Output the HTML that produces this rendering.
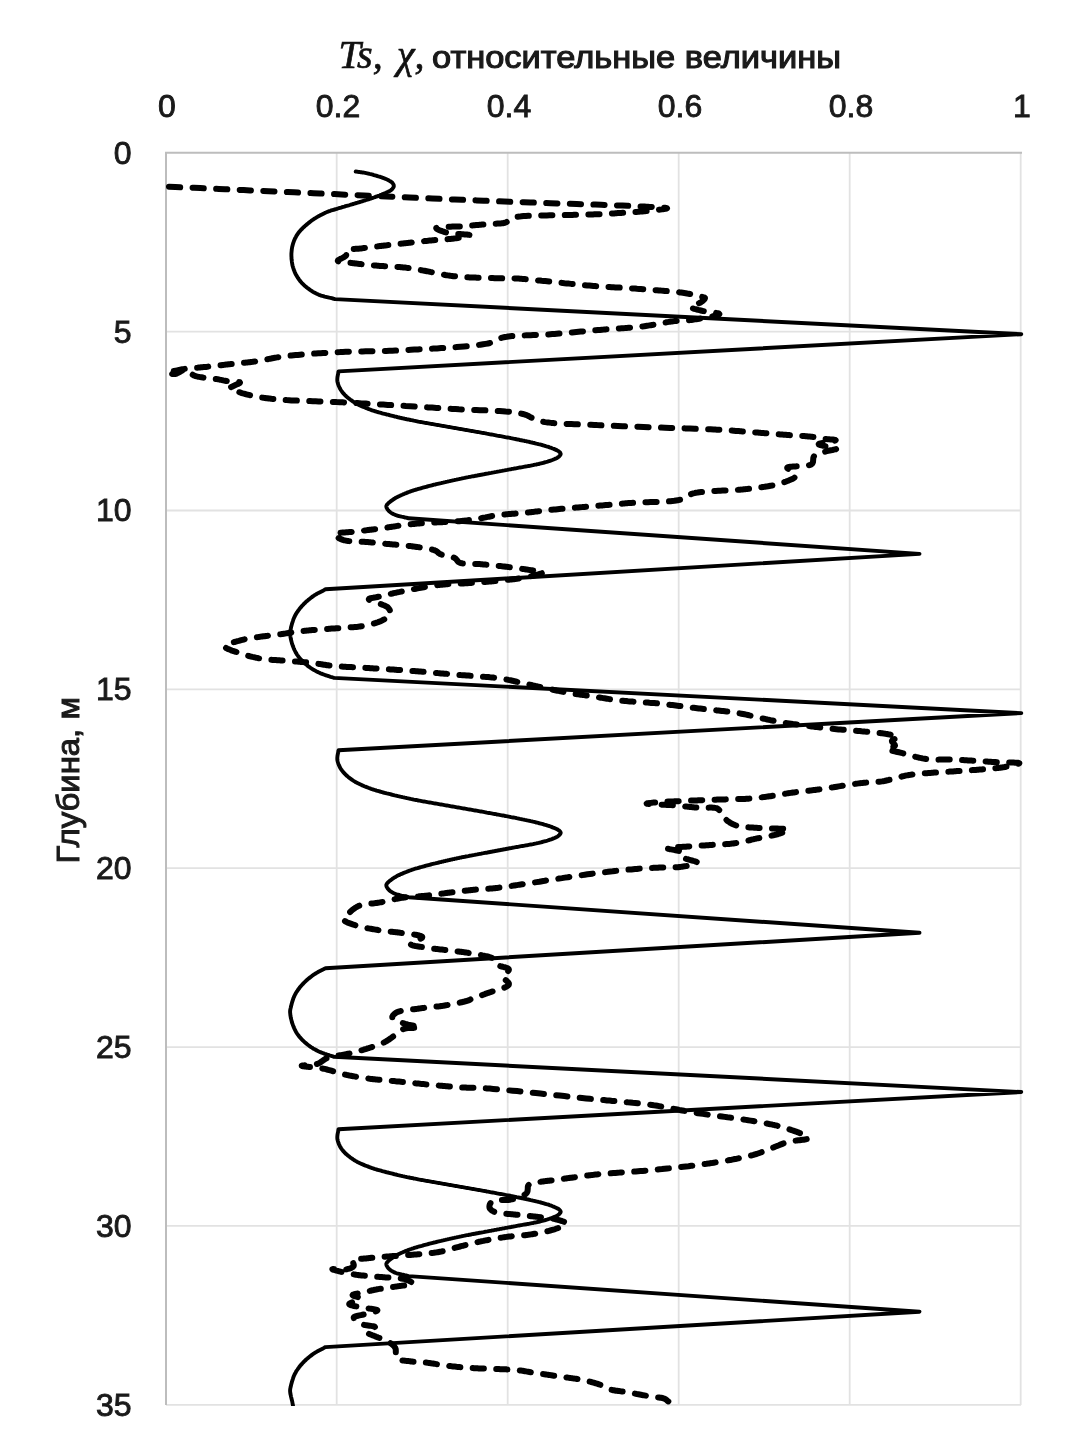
<!DOCTYPE html>
<html><head><meta charset="utf-8"><style>
html,body{margin:0;padding:0;background:#fff;}
svg{display:block;will-change:transform;}
.tk{font-family:"Liberation Sans",sans-serif;font-size:32px;fill:#1a1a1a;font-weight:normal;stroke:#1a1a1a;stroke-width:0.9px;}
.ti{font-family:"Liberation Serif",serif;font-style:italic;font-size:40px;fill:#111;stroke:#111;stroke-width:0.7px;}
.ts{font-family:"Liberation Sans",sans-serif;font-size:31px;fill:#1a1a1a;stroke:#1a1a1a;stroke-width:1.1px;}
.yl{font-family:"Liberation Sans",sans-serif;font-size:31px;fill:#1a1a1a;stroke:#1a1a1a;stroke-width:1px;}
</style></head><body>
<svg width="1067" height="1455" viewBox="0 0 1067 1455">
<rect width="1067" height="1455" fill="#fff"/><clipPath id="cp"><rect x="0" y="0" width="1067" height="1406"/></clipPath>
<line x1="336.7" y1="152.8" x2="336.7" y2="1405" stroke="#e2e2e2" stroke-width="1.8"/><line x1="507.7" y1="152.8" x2="507.7" y2="1405" stroke="#e2e2e2" stroke-width="1.8"/><line x1="678.7" y1="152.8" x2="678.7" y2="1405" stroke="#e2e2e2" stroke-width="1.8"/><line x1="849.7" y1="152.8" x2="849.7" y2="1405" stroke="#e2e2e2" stroke-width="1.8"/><line x1="1020.7" y1="152.8" x2="1020.7" y2="1405" stroke="#e2e2e2" stroke-width="1.8"/><line x1="166" y1="331.7" x2="1021" y2="331.7" stroke="#e2e2e2" stroke-width="1.8"/><line x1="166" y1="510.5" x2="1021" y2="510.5" stroke="#e2e2e2" stroke-width="1.8"/><line x1="166" y1="689.4" x2="1021" y2="689.4" stroke="#e2e2e2" stroke-width="1.8"/><line x1="166" y1="868.2" x2="1021" y2="868.2" stroke="#e2e2e2" stroke-width="1.8"/><line x1="166" y1="1047.1" x2="1021" y2="1047.1" stroke="#e2e2e2" stroke-width="1.8"/><line x1="166" y1="1225.9" x2="1021" y2="1225.9" stroke="#e2e2e2" stroke-width="1.8"/><line x1="166" y1="1404.8" x2="1021" y2="1404.8" stroke="#e2e2e2" stroke-width="1.8"/><line x1="166" y1="152.8" x2="166" y2="1405" stroke="#bdbdbd" stroke-width="2"/><line x1="165" y1="152.8" x2="1022" y2="152.8" stroke="#bdbdbd" stroke-width="2"/>
<text x="167.0" y="116.5" text-anchor="middle" class="tk">0</text><text x="338.0" y="116.5" text-anchor="middle" class="tk">0.2</text><text x="509.0" y="116.5" text-anchor="middle" class="tk">0.4</text><text x="680.0" y="116.5" text-anchor="middle" class="tk">0.6</text><text x="851.0" y="116.5" text-anchor="middle" class="tk">0.8</text><text x="1022.0" y="116.5" text-anchor="middle" class="tk">1</text><text x="131.5" y="163.6" text-anchor="end" class="tk">0</text><text x="131.5" y="342.5" text-anchor="end" class="tk">5</text><text x="131.5" y="521.3" text-anchor="end" class="tk">10</text><text x="131.5" y="700.2" text-anchor="end" class="tk">15</text><text x="131.5" y="879.0" text-anchor="end" class="tk">20</text><text x="131.5" y="1057.9" text-anchor="end" class="tk">25</text><text x="131.5" y="1236.7" text-anchor="end" class="tk">30</text><text x="131.5" y="1415.6" text-anchor="end" class="tk">35</text>
<text x="338.5" y="68" class="ti">Ts,</text><text x="397" y="68" class="ti">χ,</text>
<text x="432" y="68" class="ts" textLength="409" lengthAdjust="spacingAndGlyphs">относительные величины</text>
<text transform="translate(78.5,863.5) rotate(-90)" class="yl" textLength="166.5" lengthAdjust="spacingAndGlyphs">Глубина, м</text>
<path clip-path="url(#cp)" d="M355.7 171.5 L356.9 171.7 L358.0 171.8 L359.2 172.0 L360.4 172.2 L361.6 172.3 L362.7 172.5 L363.9 172.7 L365.1 172.9 L366.2 173.1 L367.3 173.3 L368.4 173.6 L369.5 173.9 L370.6 174.1 L371.7 174.4 L372.8 174.7 L373.9 175.1 L375.0 175.4 L376.1 175.7 L377.2 176.0 L378.3 176.4 L379.5 176.7 L380.6 177.0 L381.7 177.4 L382.8 177.8 L383.9 178.2 L384.9 178.6 L385.9 179.0 L387.0 179.5 L388.1 180.0 L389.1 180.6 L390.2 181.2 L391.1 181.8 L391.9 182.4 L392.5 183.0 L393.2 184.0 L393.7 185.1 L393.8 186.2 L393.6 187.0 L393.1 187.9 L392.5 188.7 L391.8 189.5 L391.1 190.1 L390.2 190.7 L389.2 191.2 L388.1 191.8 L387.0 192.3 L385.9 192.8 L384.9 193.2 L383.9 193.7 L382.8 194.1 L381.7 194.6 L380.6 195.0 L379.5 195.5 L378.3 195.9 L377.2 196.3 L376.1 196.7 L375.0 197.1 L373.9 197.5 L372.9 197.8 L371.8 198.2 L370.7 198.6 L369.6 198.9 L368.5 199.3 L367.4 199.6 L366.2 200.0 L365.2 200.3 L364.1 200.7 L363.1 201.0 L362.0 201.3 L360.9 201.7 L359.8 202.0 L358.7 202.3 L357.5 202.7 L356.4 203.0 L355.3 203.3 L354.2 203.7 L353.1 204.0 L352.0 204.3 L350.9 204.6 L349.8 205.0 L348.8 205.3 L347.7 205.6 L346.6 205.9 L345.5 206.2 L344.4 206.6 L343.3 206.9 L342.2 207.2 L341.1 207.6 L340.0 207.9 L338.9 208.2 L337.9 208.5 L336.8 208.9 L335.7 209.2 L334.6 209.5 L333.5 209.8 L332.4 210.1 L331.3 210.4 L330.3 210.8 L329.2 211.2 L328.1 211.6 L327.0 212.0 L325.9 212.5 L324.9 212.9 L323.9 213.4 L322.9 213.9 L321.9 214.4 L320.9 214.9 L319.9 215.5 L318.9 216.0 L317.9 216.6 L316.9 217.2 L315.9 217.8 L314.9 218.4 L313.9 219.0 L313.0 219.7 L312.0 220.3 L311.1 221.0 L310.2 221.7 L309.3 222.4 L308.4 223.1 L307.5 223.9 L306.6 224.6 L305.6 225.4 L304.8 226.2 L303.9 227.0 L303.0 227.8 L302.2 228.7 L301.3 229.5 L300.5 230.4 L299.8 231.2 L299.0 232.1 L298.4 233.0 L297.7 233.9 L297.1 234.8 L296.5 235.8 L295.9 236.9 L295.3 237.9 L294.8 239.0 L294.3 240.1 L293.9 241.2 L293.5 242.3 L293.1 243.4 L292.8 244.5 L292.5 245.7 L292.2 246.8 L292.0 248.0 L291.8 249.2 L291.7 250.3 L291.6 251.4 L291.5 252.5 L291.4 253.7 L291.4 254.9 L291.4 256.0 L291.5 257.2 L291.5 258.4 L291.6 259.6 L291.8 260.8 L291.9 262.0 L292.1 263.2 L292.3 264.3 L292.5 265.4 L292.8 266.5 L293.1 267.6 L293.5 268.7 L293.8 269.8 L294.3 270.9 L294.7 272.0 L295.2 273.1 L295.7 274.2 L296.3 275.2 L296.8 276.2 L297.5 277.2 L298.1 278.2 L298.8 279.2 L299.5 280.1 L300.2 281.1 L301.0 282.0 L301.7 282.8 L302.5 283.6 L303.3 284.4 L304.1 285.2 L305.0 286.0 L305.9 286.7 L306.8 287.5 L307.7 288.2 L308.7 288.9 L309.7 289.6 L310.6 290.3 L311.6 290.9 L312.6 291.6 L313.7 292.2 L314.7 292.7 L315.7 293.3 L316.7 293.8 L317.8 294.3 L318.9 294.8 L320.0 295.2 L321.1 295.6 L322.2 295.9 L323.4 296.2 L324.6 296.6 L325.7 296.8 L326.9 297.1 L328.1 297.4 L329.3 297.7 L330.4 297.9 L331.6 298.2 L332.8 298.5 L333.9 298.8 L335.1 299.1 L1021.3 334.2 L338.5 371.4 L338.3 372.5 L338.2 373.6 L337.9 374.7 L337.7 375.8 L337.5 376.9 L337.4 378.0 L337.3 379.1 L337.3 380.2 L337.4 381.3 L337.6 382.3 L337.9 383.4 L338.2 384.4 L338.6 385.5 L339.0 386.5 L339.5 387.5 L340.0 388.6 L340.6 389.6 L341.2 390.5 L341.9 391.5 L342.5 392.3 L343.2 393.2 L344.0 394.0 L344.7 394.8 L345.6 395.7 L346.4 396.5 L347.3 397.2 L348.2 398.0 L349.2 398.8 L350.1 399.5 L351.1 400.2 L352.1 400.9 L353.1 401.6 L354.0 402.2 L355.0 402.8 L355.9 403.3 L356.9 403.9 L357.9 404.4 L359.0 404.9 L360.0 405.4 L361.1 405.9 L362.1 406.4 L363.2 406.8 L364.3 407.3 L365.5 407.8 L366.6 408.2 L367.7 408.6 L368.9 409.1 L370.0 409.5 L371.0 409.9 L372.1 410.3 L373.2 410.6 L374.3 411.0 L375.4 411.3 L376.5 411.7 L377.6 412.0 L378.7 412.3 L379.9 412.6 L381.0 412.9 L382.2 413.3 L383.3 413.6 L384.5 413.9 L385.6 414.2 L386.8 414.5 L387.9 414.7 L389.1 415.0 L390.2 415.3 L391.4 415.6 L392.5 415.9 L393.6 416.2 L394.7 416.5 L395.9 416.7 L397.0 417.0 L398.1 417.3 L399.2 417.5 L400.3 417.8 L401.4 418.0 L402.5 418.3 L403.7 418.5 L404.8 418.8 L405.9 419.0 L407.0 419.3 L408.2 419.5 L409.3 419.7 L410.4 420.0 L411.6 420.2 L412.7 420.4 L413.8 420.7 L415.0 420.9 L416.1 421.1 L417.2 421.3 L418.3 421.6 L419.5 421.8 L420.6 422.0 L421.7 422.2 L422.8 422.4 L424.0 422.6 L425.1 422.8 L426.2 423.0 L427.4 423.2 L428.5 423.4 L429.7 423.6 L430.8 423.8 L432.0 424.0 L433.1 424.2 L434.2 424.4 L435.4 424.6 L436.5 424.8 L437.7 425.0 L438.8 425.2 L440.0 425.4 L441.1 425.6 L442.3 425.8 L443.4 426.0 L444.5 426.2 L445.7 426.4 L446.8 426.6 L447.9 426.8 L449.1 427.0 L450.2 427.2 L451.3 427.4 L452.5 427.6 L453.6 427.8 L454.8 428.0 L455.9 428.2 L457.1 428.4 L458.2 428.6 L459.3 428.8 L460.5 429.0 L461.6 429.2 L462.8 429.4 L463.9 429.6 L465.1 429.8 L466.2 430.0 L467.3 430.2 L468.5 430.4 L469.6 430.6 L470.8 430.8 L471.9 431.0 L473.1 431.2 L474.2 431.4 L475.3 431.6 L476.5 431.8 L477.6 432.0 L478.8 432.2 L479.9 432.4 L481.1 432.6 L482.2 432.8 L483.4 433.0 L484.5 433.2 L485.6 433.4 L486.8 433.7 L487.9 433.9 L489.1 434.1 L490.2 434.3 L491.4 434.5 L492.5 434.7 L493.6 434.9 L494.8 435.1 L495.9 435.3 L497.1 435.6 L498.3 435.8 L499.4 436.0 L500.6 436.2 L501.8 436.4 L502.9 436.6 L504.1 436.8 L505.3 437.1 L506.4 437.3 L507.6 437.5 L508.7 437.7 L509.9 437.9 L511.0 438.2 L512.1 438.4 L513.3 438.6 L514.4 438.8 L515.5 439.0 L516.6 439.3 L517.6 439.5 L518.7 439.7 L519.9 440.0 L521.2 440.2 L522.4 440.5 L523.6 440.7 L524.8 441.0 L526.0 441.2 L527.2 441.5 L528.4 441.7 L529.6 442.0 L530.7 442.3 L531.9 442.5 L533.0 442.8 L534.1 443.0 L535.2 443.3 L536.3 443.6 L537.4 443.8 L538.4 444.1 L539.6 444.4 L540.8 444.7 L542.0 445.0 L543.1 445.3 L544.2 445.7 L545.4 446.0 L546.4 446.3 L547.5 446.6 L548.5 446.9 L549.6 447.3 L550.5 447.6 L551.5 448.0 L552.6 448.5 L553.8 448.9 L554.9 449.4 L556.0 449.9 L557.1 450.4 L558.0 450.9 L558.8 451.4 L559.4 451.9 L560.3 452.9 L560.7 453.9 L560.5 454.7 L559.9 455.5 L559.1 456.4 L558.1 457.2 L557.4 457.7 L556.5 458.2 L555.6 458.6 L554.6 459.1 L553.5 459.5 L552.3 460.0 L551.2 460.4 L550.0 460.8 L548.8 461.2 L547.6 461.6 L546.6 461.9 L545.5 462.2 L544.4 462.5 L543.3 462.8 L542.2 463.1 L541.0 463.4 L539.8 463.7 L538.7 464.0 L537.5 464.2 L536.3 464.5 L535.2 464.7 L534.1 464.9 L533.0 465.2 L531.9 465.4 L530.8 465.6 L529.7 465.8 L528.7 466.0 L527.7 466.2 L526.7 466.4 L525.7 466.5 L524.7 466.7 L523.6 466.9 L522.5 467.1 L521.3 467.3 L520.0 467.5 L519.0 467.7 L518.0 467.9 L516.9 468.1 L515.8 468.3 L514.6 468.5 L513.5 468.7 L512.2 468.9 L511.0 469.2 L509.7 469.4 L508.5 469.6 L507.2 469.9 L505.9 470.1 L504.5 470.4 L503.2 470.6 L501.8 470.9 L500.5 471.1 L499.2 471.4 L497.8 471.6 L496.5 471.9 L495.2 472.1 L493.8 472.4 L492.5 472.6 L491.3 472.9 L490.0 473.1 L488.7 473.3 L487.5 473.6 L486.2 473.8 L484.9 474.0 L483.6 474.3 L482.4 474.5 L481.1 474.8 L479.8 475.0 L478.5 475.2 L477.2 475.5 L475.9 475.7 L474.6 476.0 L473.3 476.2 L472.1 476.4 L470.8 476.7 L469.5 476.9 L468.3 477.2 L467.1 477.4 L465.8 477.6 L464.6 477.9 L463.5 478.1 L462.3 478.3 L461.1 478.6 L460.0 478.8 L458.8 479.1 L457.6 479.3 L456.4 479.6 L455.2 479.8 L454.1 480.1 L452.9 480.3 L451.8 480.6 L450.7 480.8 L449.6 481.1 L448.5 481.3 L447.4 481.6 L446.3 481.8 L445.2 482.1 L444.2 482.3 L443.1 482.6 L442.1 482.8 L441.0 483.1 L440.0 483.3 L438.8 483.6 L437.6 483.9 L436.4 484.2 L435.2 484.5 L434.1 484.7 L432.9 485.0 L431.8 485.3 L430.7 485.6 L429.5 485.9 L428.4 486.2 L427.3 486.5 L426.1 486.8 L425.0 487.1 L423.9 487.4 L422.8 487.7 L421.8 488.0 L420.7 488.3 L419.6 488.6 L418.5 488.9 L417.5 489.2 L416.4 489.5 L415.3 489.8 L414.3 490.1 L413.2 490.5 L412.1 490.8 L411.1 491.2 L410.0 491.6 L408.9 492.0 L407.8 492.4 L406.7 492.9 L405.5 493.3 L404.4 493.8 L403.3 494.2 L402.2 494.7 L401.0 495.2 L400.0 495.7 L398.9 496.2 L397.9 496.7 L396.9 497.2 L395.9 497.8 L395.0 498.3 L393.9 499.0 L392.7 499.8 L391.6 500.6 L390.5 501.4 L389.5 502.2 L388.5 503.0 L387.8 503.8 L387.1 504.5 L386.7 505.1 L386.3 506.1 L386.4 507.0 L386.6 507.7 L387.1 508.6 L387.6 509.5 L388.3 510.3 L389.0 511.1 L389.8 511.8 L390.7 512.5 L391.6 513.1 L392.7 513.7 L393.8 514.3 L395.0 514.8 L395.9 515.2 L396.9 515.5 L398.0 515.8 L399.1 516.1 L400.3 516.4 L401.5 516.7 L402.7 516.9 L403.9 517.2 L405.1 517.5 L406.3 517.7 L407.5 518.0 L408.7 518.3 L919.5 553.9 L325.5 589.3 L324.5 589.8 L323.5 590.4 L322.5 590.9 L321.5 591.4 L320.5 591.9 L319.5 592.4 L318.5 592.9 L317.6 593.4 L316.6 594.0 L315.6 594.6 L314.6 595.2 L313.7 595.8 L312.8 596.4 L311.9 597.1 L311.0 597.8 L310.1 598.5 L309.2 599.2 L308.3 599.9 L307.4 600.7 L306.5 601.4 L305.7 602.2 L304.9 603.0 L304.0 603.8 L303.3 604.6 L302.5 605.4 L301.7 606.3 L301.0 607.1 L300.2 608.0 L299.5 608.9 L298.8 609.9 L298.1 610.8 L297.5 611.7 L296.8 612.7 L296.2 613.6 L295.7 614.6 L295.1 615.6 L294.6 616.6 L294.1 617.7 L293.6 618.8 L293.2 620.0 L292.8 621.3 L292.4 622.5 L292.0 623.7 L291.7 624.9 L291.4 626.0 L291.1 627.1 L290.9 628.1 L290.7 629.0 L290.4 630.2 L290.2 631.3 L290.1 632.3 L290.1 633.5 L290.2 634.4 L290.3 635.4 L290.4 636.5 L290.6 637.6 L290.8 638.8 L291.1 640.0 L291.4 641.2 L291.7 642.4 L292.0 643.6 L292.4 644.7 L292.8 645.8 L293.2 646.8 L293.6 647.9 L294.0 648.9 L294.5 650.0 L295.0 651.0 L295.5 652.0 L296.1 653.1 L296.7 654.1 L297.3 655.0 L298.0 656.0 L298.7 656.9 L299.4 657.8 L300.2 658.7 L301.0 659.6 L301.8 660.5 L302.7 661.4 L303.6 662.2 L304.4 663.0 L305.4 663.8 L306.3 664.6 L307.2 665.4 L308.1 666.1 L309.1 666.8 L310.0 667.5 L311.0 668.2 L312.0 668.8 L313.0 669.5 L314.0 670.0 L315.1 670.6 L316.1 671.2 L317.2 671.7 L318.3 672.3 L319.4 672.8 L320.4 673.3 L321.5 673.7 L322.6 674.1 L323.7 674.5 L324.8 674.9 L326.0 675.3 L327.1 675.7 L328.3 676.0 L329.4 676.4 L330.6 676.8 L331.7 677.1 L332.9 677.5 L334.0 677.9 L1021.3 713.1 L338.5 750.3 L338.3 751.4 L338.2 752.5 L337.9 753.6 L337.7 754.7 L337.5 755.8 L337.4 756.9 L337.3 758.0 L337.3 759.1 L337.4 760.2 L337.6 761.2 L337.9 762.3 L338.2 763.3 L338.6 764.4 L339.0 765.4 L339.5 766.4 L340.0 767.5 L340.6 768.5 L341.2 769.4 L341.9 770.4 L342.5 771.2 L343.2 772.1 L344.0 772.9 L344.7 773.7 L345.6 774.6 L346.4 775.4 L347.3 776.1 L348.2 776.9 L349.2 777.7 L350.1 778.4 L351.1 779.1 L352.1 779.8 L353.1 780.5 L354.0 781.1 L355.0 781.7 L355.9 782.2 L356.9 782.8 L357.9 783.3 L359.0 783.8 L360.0 784.3 L361.1 784.8 L362.1 785.3 L363.2 785.7 L364.3 786.2 L365.5 786.7 L366.6 787.1 L367.7 787.5 L368.9 788.0 L370.0 788.4 L371.0 788.8 L372.1 789.2 L373.2 789.5 L374.3 789.9 L375.4 790.2 L376.5 790.6 L377.6 790.9 L378.7 791.2 L379.9 791.5 L381.0 791.8 L382.2 792.2 L383.3 792.5 L384.5 792.8 L385.6 793.1 L386.8 793.4 L387.9 793.6 L389.1 793.9 L390.2 794.2 L391.4 794.5 L392.5 794.8 L393.6 795.1 L394.7 795.4 L395.9 795.6 L397.0 795.9 L398.1 796.2 L399.2 796.4 L400.3 796.7 L401.4 796.9 L402.5 797.2 L403.7 797.4 L404.8 797.7 L405.9 797.9 L407.0 798.2 L408.2 798.4 L409.3 798.6 L410.4 798.9 L411.6 799.1 L412.7 799.3 L413.8 799.6 L415.0 799.8 L416.1 800.0 L417.2 800.2 L418.3 800.5 L419.5 800.7 L420.6 800.9 L421.7 801.1 L422.8 801.3 L424.0 801.5 L425.1 801.7 L426.2 801.9 L427.4 802.1 L428.5 802.3 L429.7 802.5 L430.8 802.7 L432.0 802.9 L433.1 803.1 L434.2 803.3 L435.4 803.5 L436.5 803.7 L437.7 803.9 L438.8 804.1 L440.0 804.3 L441.1 804.5 L442.3 804.7 L443.4 804.9 L444.5 805.1 L445.7 805.3 L446.8 805.5 L447.9 805.7 L449.1 805.9 L450.2 806.1 L451.3 806.3 L452.5 806.5 L453.6 806.7 L454.8 806.9 L455.9 807.1 L457.1 807.3 L458.2 807.5 L459.3 807.7 L460.5 807.9 L461.6 808.1 L462.8 808.3 L463.9 808.5 L465.1 808.7 L466.2 808.9 L467.3 809.1 L468.5 809.3 L469.6 809.5 L470.8 809.7 L471.9 809.9 L473.1 810.1 L474.2 810.3 L475.3 810.5 L476.5 810.7 L477.6 810.9 L478.8 811.1 L479.9 811.3 L481.1 811.5 L482.2 811.7 L483.4 811.9 L484.5 812.1 L485.6 812.3 L486.8 812.6 L487.9 812.8 L489.1 813.0 L490.2 813.2 L491.4 813.4 L492.5 813.6 L493.6 813.8 L494.8 814.0 L495.9 814.2 L497.1 814.5 L498.3 814.7 L499.4 814.9 L500.6 815.1 L501.8 815.3 L502.9 815.5 L504.1 815.7 L505.3 816.0 L506.4 816.2 L507.6 816.4 L508.7 816.6 L509.9 816.8 L511.0 817.1 L512.1 817.3 L513.3 817.5 L514.4 817.7 L515.5 817.9 L516.6 818.2 L517.6 818.4 L518.7 818.6 L519.9 818.9 L521.2 819.1 L522.4 819.4 L523.6 819.6 L524.8 819.9 L526.0 820.1 L527.2 820.4 L528.4 820.6 L529.6 820.9 L530.7 821.2 L531.9 821.4 L533.0 821.7 L534.1 821.9 L535.2 822.2 L536.3 822.5 L537.4 822.7 L538.4 823.0 L539.6 823.3 L540.8 823.6 L542.0 823.9 L543.1 824.2 L544.2 824.6 L545.4 824.9 L546.4 825.2 L547.5 825.5 L548.5 825.8 L549.6 826.2 L550.5 826.5 L551.5 826.9 L552.6 827.4 L553.8 827.8 L554.9 828.3 L556.0 828.8 L557.1 829.3 L558.0 829.8 L558.8 830.3 L559.4 830.8 L560.3 831.8 L560.7 832.8 L560.5 833.6 L559.9 834.4 L559.1 835.3 L558.1 836.1 L557.4 836.6 L556.5 837.1 L555.6 837.5 L554.6 838.0 L553.5 838.4 L552.3 838.9 L551.2 839.3 L550.0 839.7 L548.8 840.1 L547.6 840.5 L546.6 840.8 L545.5 841.1 L544.4 841.4 L543.3 841.7 L542.2 842.0 L541.0 842.3 L539.8 842.6 L538.7 842.9 L537.5 843.1 L536.3 843.4 L535.2 843.6 L534.1 843.8 L533.0 844.1 L531.9 844.3 L530.8 844.5 L529.7 844.7 L528.7 844.9 L527.7 845.1 L526.7 845.3 L525.7 845.4 L524.7 845.6 L523.6 845.8 L522.5 846.0 L521.3 846.2 L520.0 846.4 L519.0 846.6 L518.0 846.8 L516.9 847.0 L515.8 847.2 L514.6 847.4 L513.5 847.6 L512.2 847.8 L511.0 848.1 L509.7 848.3 L508.5 848.5 L507.2 848.8 L505.9 849.0 L504.5 849.3 L503.2 849.5 L501.8 849.8 L500.5 850.0 L499.2 850.3 L497.8 850.5 L496.5 850.8 L495.2 851.0 L493.8 851.3 L492.5 851.5 L491.3 851.8 L490.0 852.0 L488.7 852.2 L487.5 852.5 L486.2 852.7 L484.9 852.9 L483.6 853.2 L482.4 853.4 L481.1 853.7 L479.8 853.9 L478.5 854.1 L477.2 854.4 L475.9 854.6 L474.6 854.9 L473.3 855.1 L472.1 855.3 L470.8 855.6 L469.5 855.8 L468.3 856.1 L467.1 856.3 L465.8 856.5 L464.6 856.8 L463.5 857.0 L462.3 857.2 L461.1 857.5 L460.0 857.7 L458.8 858.0 L457.6 858.2 L456.4 858.5 L455.2 858.7 L454.1 859.0 L452.9 859.2 L451.8 859.5 L450.7 859.7 L449.6 860.0 L448.5 860.2 L447.4 860.5 L446.3 860.7 L445.2 861.0 L444.2 861.2 L443.1 861.5 L442.1 861.7 L441.0 862.0 L440.0 862.2 L438.8 862.5 L437.6 862.8 L436.4 863.1 L435.2 863.4 L434.1 863.6 L432.9 863.9 L431.8 864.2 L430.7 864.5 L429.5 864.8 L428.4 865.1 L427.3 865.4 L426.1 865.7 L425.0 866.0 L423.9 866.3 L422.8 866.6 L421.8 866.9 L420.7 867.2 L419.6 867.5 L418.5 867.8 L417.5 868.1 L416.4 868.4 L415.3 868.7 L414.3 869.0 L413.2 869.4 L412.1 869.7 L411.1 870.1 L410.0 870.5 L408.9 870.9 L407.8 871.3 L406.7 871.8 L405.5 872.2 L404.4 872.7 L403.3 873.1 L402.2 873.6 L401.0 874.1 L400.0 874.6 L398.9 875.1 L397.9 875.6 L396.9 876.1 L395.9 876.7 L395.0 877.2 L393.9 877.9 L392.7 878.7 L391.6 879.5 L390.5 880.3 L389.5 881.1 L388.5 881.9 L387.8 882.7 L387.1 883.4 L386.7 884.0 L386.3 885.0 L386.4 885.9 L386.6 886.6 L387.1 887.5 L387.6 888.4 L388.3 889.2 L389.0 890.0 L389.8 890.7 L390.7 891.4 L391.6 892.0 L392.7 892.6 L393.8 893.2 L395.0 893.7 L395.9 894.1 L396.9 894.4 L398.0 894.7 L399.1 895.0 L400.3 895.3 L401.5 895.6 L402.7 895.8 L403.9 896.1 L405.1 896.4 L406.3 896.6 L407.5 896.9 L408.7 897.2 L919.5 932.8 L325.5 968.2 L324.5 968.7 L323.5 969.3 L322.5 969.8 L321.5 970.3 L320.5 970.8 L319.5 971.3 L318.5 971.8 L317.6 972.3 L316.6 972.9 L315.6 973.5 L314.6 974.1 L313.7 974.7 L312.8 975.3 L311.9 976.0 L311.0 976.7 L310.1 977.4 L309.2 978.1 L308.3 978.8 L307.4 979.6 L306.5 980.3 L305.7 981.1 L304.9 981.9 L304.0 982.7 L303.3 983.5 L302.5 984.3 L301.7 985.2 L301.0 986.0 L300.2 986.9 L299.5 987.8 L298.8 988.8 L298.1 989.7 L297.5 990.6 L296.8 991.6 L296.2 992.5 L295.7 993.5 L295.1 994.5 L294.6 995.5 L294.1 996.6 L293.6 997.7 L293.2 998.9 L292.8 1000.2 L292.4 1001.4 L292.0 1002.6 L291.7 1003.8 L291.4 1004.9 L291.1 1006.0 L290.9 1007.0 L290.7 1007.9 L290.4 1009.1 L290.2 1010.2 L290.1 1011.2 L290.1 1012.4 L290.2 1013.3 L290.3 1014.3 L290.4 1015.4 L290.6 1016.5 L290.8 1017.7 L291.1 1018.9 L291.4 1020.1 L291.7 1021.3 L292.0 1022.5 L292.4 1023.6 L292.8 1024.7 L293.2 1025.7 L293.6 1026.8 L294.0 1027.8 L294.5 1028.9 L295.0 1029.9 L295.5 1030.9 L296.1 1032.0 L296.7 1033.0 L297.3 1033.9 L298.0 1034.9 L298.7 1035.8 L299.4 1036.7 L300.2 1037.6 L301.0 1038.5 L301.8 1039.4 L302.7 1040.3 L303.6 1041.1 L304.4 1041.9 L305.4 1042.7 L306.3 1043.5 L307.2 1044.3 L308.1 1045.0 L309.1 1045.7 L310.0 1046.4 L311.0 1047.1 L312.0 1047.7 L313.0 1048.4 L314.0 1048.9 L315.1 1049.5 L316.1 1050.1 L317.2 1050.6 L318.3 1051.2 L319.4 1051.7 L320.4 1052.2 L321.5 1052.6 L322.6 1053.0 L323.7 1053.4 L324.8 1053.8 L326.0 1054.2 L327.1 1054.6 L328.3 1054.9 L329.4 1055.3 L330.6 1055.7 L331.7 1056.0 L332.9 1056.4 L334.0 1056.8 L1021.3 1092.0 L338.5 1129.2 L338.3 1130.3 L338.2 1131.4 L337.9 1132.5 L337.7 1133.6 L337.5 1134.7 L337.4 1135.8 L337.3 1136.9 L337.3 1138.0 L337.4 1139.1 L337.6 1140.1 L337.9 1141.2 L338.2 1142.2 L338.6 1143.3 L339.0 1144.3 L339.5 1145.3 L340.0 1146.4 L340.6 1147.4 L341.2 1148.3 L341.9 1149.3 L342.5 1150.1 L343.2 1151.0 L344.0 1151.8 L344.7 1152.6 L345.6 1153.5 L346.4 1154.3 L347.3 1155.0 L348.2 1155.8 L349.2 1156.6 L350.1 1157.3 L351.1 1158.0 L352.1 1158.7 L353.1 1159.4 L354.0 1160.0 L355.0 1160.6 L355.9 1161.1 L356.9 1161.7 L357.9 1162.2 L359.0 1162.7 L360.0 1163.2 L361.1 1163.7 L362.1 1164.2 L363.2 1164.6 L364.3 1165.1 L365.5 1165.6 L366.6 1166.0 L367.7 1166.4 L368.9 1166.9 L370.0 1167.3 L371.0 1167.7 L372.1 1168.1 L373.2 1168.4 L374.3 1168.8 L375.4 1169.1 L376.5 1169.5 L377.6 1169.8 L378.7 1170.1 L379.9 1170.4 L381.0 1170.7 L382.2 1171.1 L383.3 1171.4 L384.5 1171.7 L385.6 1172.0 L386.8 1172.3 L387.9 1172.5 L389.1 1172.8 L390.2 1173.1 L391.4 1173.4 L392.5 1173.7 L393.6 1174.0 L394.7 1174.3 L395.9 1174.5 L397.0 1174.8 L398.1 1175.1 L399.2 1175.3 L400.3 1175.6 L401.4 1175.8 L402.5 1176.1 L403.7 1176.3 L404.8 1176.6 L405.9 1176.8 L407.0 1177.1 L408.2 1177.3 L409.3 1177.5 L410.4 1177.8 L411.6 1178.0 L412.7 1178.2 L413.8 1178.5 L415.0 1178.7 L416.1 1178.9 L417.2 1179.1 L418.3 1179.4 L419.5 1179.6 L420.6 1179.8 L421.7 1180.0 L422.8 1180.2 L424.0 1180.4 L425.1 1180.6 L426.2 1180.8 L427.4 1181.0 L428.5 1181.2 L429.7 1181.4 L430.8 1181.6 L432.0 1181.8 L433.1 1182.0 L434.2 1182.2 L435.4 1182.4 L436.5 1182.6 L437.7 1182.8 L438.8 1183.0 L440.0 1183.2 L441.1 1183.4 L442.3 1183.6 L443.4 1183.8 L444.5 1184.0 L445.7 1184.2 L446.8 1184.4 L447.9 1184.6 L449.1 1184.8 L450.2 1185.0 L451.3 1185.2 L452.5 1185.4 L453.6 1185.6 L454.8 1185.8 L455.9 1186.0 L457.1 1186.2 L458.2 1186.4 L459.3 1186.6 L460.5 1186.8 L461.6 1187.0 L462.8 1187.2 L463.9 1187.4 L465.1 1187.6 L466.2 1187.8 L467.3 1188.0 L468.5 1188.2 L469.6 1188.4 L470.8 1188.6 L471.9 1188.8 L473.1 1189.0 L474.2 1189.2 L475.3 1189.4 L476.5 1189.6 L477.6 1189.8 L478.8 1190.0 L479.9 1190.2 L481.1 1190.4 L482.2 1190.6 L483.4 1190.8 L484.5 1191.0 L485.6 1191.2 L486.8 1191.5 L487.9 1191.7 L489.1 1191.9 L490.2 1192.1 L491.4 1192.3 L492.5 1192.5 L493.6 1192.7 L494.8 1192.9 L495.9 1193.1 L497.1 1193.4 L498.3 1193.6 L499.4 1193.8 L500.6 1194.0 L501.8 1194.2 L502.9 1194.4 L504.1 1194.6 L505.3 1194.9 L506.4 1195.1 L507.6 1195.3 L508.7 1195.5 L509.9 1195.7 L511.0 1196.0 L512.1 1196.2 L513.3 1196.4 L514.4 1196.6 L515.5 1196.8 L516.6 1197.1 L517.6 1197.3 L518.7 1197.5 L519.9 1197.8 L521.2 1198.0 L522.4 1198.3 L523.6 1198.5 L524.8 1198.8 L526.0 1199.0 L527.2 1199.3 L528.4 1199.5 L529.6 1199.8 L530.7 1200.1 L531.9 1200.3 L533.0 1200.6 L534.1 1200.8 L535.2 1201.1 L536.3 1201.4 L537.4 1201.6 L538.4 1201.9 L539.6 1202.2 L540.8 1202.5 L542.0 1202.8 L543.1 1203.1 L544.2 1203.5 L545.4 1203.8 L546.4 1204.1 L547.5 1204.4 L548.5 1204.7 L549.6 1205.1 L550.5 1205.4 L551.5 1205.8 L552.6 1206.3 L553.8 1206.7 L554.9 1207.2 L556.0 1207.7 L557.1 1208.2 L558.0 1208.7 L558.8 1209.2 L559.4 1209.7 L560.3 1210.7 L560.7 1211.7 L560.5 1212.5 L559.9 1213.3 L559.1 1214.2 L558.1 1215.0 L557.4 1215.5 L556.5 1216.0 L555.6 1216.4 L554.6 1216.9 L553.5 1217.3 L552.3 1217.8 L551.2 1218.2 L550.0 1218.6 L548.8 1219.0 L547.6 1219.4 L546.6 1219.7 L545.5 1220.0 L544.4 1220.3 L543.3 1220.6 L542.2 1220.9 L541.0 1221.2 L539.8 1221.5 L538.7 1221.8 L537.5 1222.0 L536.3 1222.3 L535.2 1222.5 L534.1 1222.7 L533.0 1223.0 L531.9 1223.2 L530.8 1223.4 L529.7 1223.6 L528.7 1223.8 L527.7 1224.0 L526.7 1224.2 L525.7 1224.3 L524.7 1224.5 L523.6 1224.7 L522.5 1224.9 L521.3 1225.1 L520.0 1225.3 L519.0 1225.5 L518.0 1225.7 L516.9 1225.9 L515.8 1226.1 L514.6 1226.3 L513.5 1226.5 L512.2 1226.7 L511.0 1227.0 L509.7 1227.2 L508.5 1227.4 L507.2 1227.7 L505.9 1227.9 L504.5 1228.2 L503.2 1228.4 L501.8 1228.7 L500.5 1228.9 L499.2 1229.2 L497.8 1229.4 L496.5 1229.7 L495.2 1229.9 L493.8 1230.2 L492.5 1230.4 L491.3 1230.7 L490.0 1230.9 L488.7 1231.1 L487.5 1231.4 L486.2 1231.6 L484.9 1231.8 L483.6 1232.1 L482.4 1232.3 L481.1 1232.6 L479.8 1232.8 L478.5 1233.0 L477.2 1233.3 L475.9 1233.5 L474.6 1233.8 L473.3 1234.0 L472.1 1234.2 L470.8 1234.5 L469.5 1234.7 L468.3 1235.0 L467.1 1235.2 L465.8 1235.4 L464.6 1235.7 L463.5 1235.9 L462.3 1236.1 L461.1 1236.4 L460.0 1236.6 L458.8 1236.9 L457.6 1237.1 L456.4 1237.4 L455.2 1237.6 L454.1 1237.9 L452.9 1238.1 L451.8 1238.4 L450.7 1238.6 L449.6 1238.9 L448.5 1239.1 L447.4 1239.4 L446.3 1239.6 L445.2 1239.9 L444.2 1240.1 L443.1 1240.4 L442.1 1240.6 L441.0 1240.9 L440.0 1241.1 L438.8 1241.4 L437.6 1241.7 L436.4 1242.0 L435.2 1242.3 L434.1 1242.5 L432.9 1242.8 L431.8 1243.1 L430.7 1243.4 L429.5 1243.7 L428.4 1244.0 L427.3 1244.3 L426.1 1244.6 L425.0 1244.9 L423.9 1245.2 L422.8 1245.5 L421.8 1245.8 L420.7 1246.1 L419.6 1246.4 L418.5 1246.7 L417.5 1247.0 L416.4 1247.3 L415.3 1247.6 L414.3 1247.9 L413.2 1248.3 L412.1 1248.6 L411.1 1249.0 L410.0 1249.4 L408.9 1249.8 L407.8 1250.2 L406.7 1250.7 L405.5 1251.1 L404.4 1251.6 L403.3 1252.0 L402.2 1252.5 L401.0 1253.0 L400.0 1253.5 L398.9 1254.0 L397.9 1254.5 L396.9 1255.0 L395.9 1255.6 L395.0 1256.1 L393.9 1256.8 L392.7 1257.6 L391.6 1258.4 L390.5 1259.2 L389.5 1260.0 L388.5 1260.8 L387.8 1261.6 L387.1 1262.3 L386.7 1262.9 L386.3 1263.9 L386.4 1264.8 L386.6 1265.5 L387.1 1266.4 L387.6 1267.3 L388.3 1268.1 L389.0 1268.9 L389.8 1269.6 L390.7 1270.3 L391.6 1270.9 L392.7 1271.5 L393.8 1272.1 L395.0 1272.6 L395.9 1273.0 L396.9 1273.3 L398.0 1273.6 L399.1 1273.9 L400.3 1274.2 L401.5 1274.5 L402.7 1274.7 L403.9 1275.0 L405.1 1275.3 L406.3 1275.5 L407.5 1275.8 L408.7 1276.1 L919.5 1311.7 L325.5 1347.1 L324.5 1347.6 L323.5 1348.2 L322.5 1348.7 L321.5 1349.2 L320.5 1349.7 L319.5 1350.2 L318.5 1350.7 L317.6 1351.2 L316.6 1351.8 L315.6 1352.4 L314.6 1353.0 L313.7 1353.6 L312.8 1354.2 L311.9 1354.9 L311.0 1355.6 L310.1 1356.3 L309.2 1357.0 L308.3 1357.7 L307.4 1358.5 L306.5 1359.2 L305.7 1360.0 L304.9 1360.8 L304.0 1361.6 L303.3 1362.4 L302.5 1363.2 L301.7 1364.1 L301.0 1364.9 L300.2 1365.8 L299.5 1366.7 L298.8 1367.7 L298.1 1368.6 L297.5 1369.5 L296.8 1370.5 L296.2 1371.4 L295.7 1372.4 L295.1 1373.4 L294.6 1374.4 L294.1 1375.5 L293.6 1376.6 L293.2 1377.8 L292.8 1379.1 L292.4 1380.3 L292.0 1381.5 L291.7 1382.7 L291.4 1383.8 L291.1 1384.9 L290.9 1385.9 L290.7 1386.8 L290.4 1388.0 L290.2 1389.1 L290.1 1390.1 L290.1 1391.3 L290.2 1392.2 L290.3 1393.2 L290.5 1394.3 L290.8 1395.5 L291.0 1396.6 L291.3 1397.8 L291.6 1399.0 L291.9 1400.2 L292.2 1401.4 L292.4 1402.5 L292.6 1403.6 L292.8 1404.7 L293.0 1405.7 L293.1 1406.8 L293.3 1407.8 L293.5 1408.9 L293.7 1409.9 L293.8 1410.9 L294.0 1412.0" fill="none" stroke="#000" stroke-width="3.9" stroke-linejoin="round" stroke-linecap="round"/>
<path d="M169.0 186.7 L175.3 187.0 L181.5 187.3 L187.8 187.5 L194.0 187.8 L200.2 188.1 L206.5 188.4 L212.7 188.7 L218.9 189.0 L225.1 189.2 L231.3 189.5 L237.5 189.8 L243.7 190.1 L250.0 190.4 L256.2 190.6 L262.5 190.9 L268.7 191.2 L275.0 191.5 L281.4 191.8 L287.7 192.1 L294.1 192.3 L300.5 192.6 L307.0 192.9 L313.5 193.2 L320.0 193.5 L327.2 193.8 L334.4 194.1 L341.7 194.5 L349.1 194.8 L356.5 195.1 L363.9 195.5 L371.5 195.8 L379.0 196.1 L386.6 196.5 L394.2 196.8 L401.8 197.2 L409.4 197.5 L416.9 197.8 L424.5 198.2 L432.1 198.5 L439.6 198.8 L447.1 199.2 L454.6 199.5 L462.0 199.8 L469.3 200.1 L476.6 200.4 L483.8 200.7 L491.0 201.0 L498.0 201.3 L504.3 201.5 L510.7 201.8 L517.2 202.0 L523.8 202.3 L530.4 202.5 L537.1 202.7 L543.8 202.9 L550.5 203.2 L557.1 203.4 L563.7 203.6 L570.3 203.8 L576.7 204.0 L583.0 204.2 L589.2 204.4 L595.3 204.6 L601.2 204.8 L606.9 205.0 L612.3 205.2 L617.6 205.4 L622.6 205.6 L627.3 205.8 L631.7 206.0 L635.8 206.2 L639.6 206.4 L641.3 206.5 L642.9 206.6 L644.6 206.6 L646.3 206.7 L648.0 206.8 L649.6 206.9 L651.3 206.9 L652.9 207.0 L654.4 207.1 L655.9 207.2 L657.4 207.2 L658.7 207.3 L660.0 207.4 L661.2 207.5 L662.4 207.5 L663.4 207.6 L664.3 207.7 L665.1 207.8 L665.7 207.9 L666.3 208.0 L666.7 208.1 L666.9 208.2 L667.0 208.3 L666.9 208.4 L666.5 208.6 L665.9 208.7 L665.1 208.9 L664.1 209.1 L663.0 209.2 L661.8 209.4 L660.4 209.6 L659.0 209.7 L657.5 209.9 L655.9 210.1 L654.4 210.3 L652.8 210.4 L651.3 210.6 L649.9 210.7 L648.5 210.9 L647.2 211.0 L646.1 211.1 L644.9 211.2 L643.8 211.3 L642.6 211.4 L641.4 211.5 L640.2 211.6 L639.0 211.7 L637.8 211.8 L636.6 211.9 L635.4 211.9 L634.2 212.0 L633.0 212.1 L631.8 212.2 L630.6 212.3 L629.4 212.3 L628.2 212.4 L627.1 212.5 L625.9 212.5 L624.7 212.6 L623.6 212.7 L622.4 212.8 L621.2 212.9 L620.0 213.0 L618.9 213.0 L617.7 213.1 L616.6 213.2 L615.4 213.3 L614.3 213.4 L613.2 213.4 L612.0 213.5 L610.9 213.6 L609.7 213.7 L608.5 213.7 L607.3 213.8 L606.0 213.9 L604.7 213.9 L603.4 214.0 L602.2 214.1 L600.9 214.1 L599.6 214.2 L598.3 214.2 L597.0 214.2 L595.7 214.3 L594.4 214.3 L593.0 214.4 L591.6 214.4 L590.3 214.4 L588.9 214.5 L587.4 214.5 L586.0 214.5 L584.6 214.5 L583.1 214.6 L581.6 214.6 L580.1 214.7 L578.6 214.7 L577.1 214.7 L575.6 214.8 L574.0 214.8 L572.5 214.9 L570.9 214.9 L569.3 215.0 L567.2 215.1 L564.9 215.1 L562.6 215.2 L560.1 215.2 L557.6 215.2 L554.9 215.3 L552.3 215.3 L549.6 215.3 L546.8 215.4 L544.1 215.4 L541.4 215.4 L538.7 215.5 L536.0 215.5 L533.4 215.6 L530.8 215.7 L528.3 215.8 L525.9 216.0 L523.6 216.1 L521.5 216.3 L519.4 216.6 L517.6 216.8 L515.9 217.1 L514.3 217.4 L513.0 217.8 L511.7 218.3 L510.7 218.9 L509.8 219.5 L509.0 220.2 L508.3 220.9 L507.5 221.5 L506.7 222.0 L505.6 222.5 L504.7 222.8 L503.8 223.0 L502.8 223.2 L501.7 223.3 L500.7 223.4 L499.6 223.5 L498.4 223.6 L497.3 223.6 L496.1 223.7 L494.9 223.7 L493.7 223.7 L492.4 223.8 L491.2 223.8 L489.9 223.9 L488.7 224.0 L487.6 224.1 L486.5 224.2 L485.4 224.3 L484.3 224.4 L483.1 224.5 L482.0 224.6 L480.8 224.7 L479.6 224.8 L478.4 224.9 L477.2 225.0 L476.0 225.1 L474.7 225.2 L473.5 225.3 L472.3 225.4 L471.0 225.5 L469.8 225.6 L468.6 225.7 L467.3 225.8 L466.1 225.9 L464.9 226.0 L463.7 226.1 L462.5 226.2 L461.3 226.3 L459.9 226.4 L458.5 226.4 L457.0 226.5 L455.5 226.5 L454.0 226.6 L452.4 226.6 L450.8 226.7 L449.2 226.7 L447.7 226.7 L446.2 226.8 L444.7 226.9 L443.3 226.9 L442.0 227.0 L440.8 227.1 L439.7 227.2 L438.7 227.3 L437.9 227.4 L437.2 227.5 L436.7 227.7 L436.3 227.9 L436.2 228.1 L436.3 228.4 L436.8 228.8 L437.5 229.3 L438.4 229.7 L439.5 230.2 L440.7 230.7 L442.1 231.2 L443.5 231.6 L444.9 232.1 L446.2 232.5 L447.5 232.8 L448.5 233.0 L449.7 233.2 L451.1 233.4 L452.5 233.6 L454.0 233.7 L455.5 233.8 L457.1 234.0 L458.7 234.1 L460.3 234.1 L461.8 234.2 L463.3 234.3 L464.6 234.4 L465.9 234.5 L467.1 234.6 L468.0 234.7 L468.9 234.8 L469.5 234.9 L469.9 235.0 L470.0 235.2 L469.8 235.4 L469.4 235.6 L468.7 235.9 L467.7 236.2 L466.6 236.4 L465.3 236.7 L463.9 237.0 L462.4 237.2 L460.8 237.5 L459.3 237.7 L457.8 238.0 L456.3 238.2 L455.0 238.4 L453.9 238.6 L452.8 238.7 L451.7 238.8 L450.6 238.9 L449.4 239.0 L448.2 239.1 L447.1 239.2 L445.9 239.3 L444.6 239.4 L443.4 239.5 L442.2 239.6 L441.0 239.7 L439.8 239.7 L438.5 239.8 L437.3 239.9 L436.1 240.0 L434.9 240.1 L433.7 240.2 L432.5 240.3 L431.3 240.4 L430.1 240.5 L429.0 240.6 L427.8 240.8 L426.6 240.9 L425.4 241.0 L424.2 241.1 L423.1 241.3 L421.9 241.4 L420.7 241.5 L419.5 241.7 L418.4 241.8 L417.2 241.9 L416.0 242.0 L414.8 242.2 L413.6 242.3 L412.4 242.4 L411.2 242.6 L410.0 242.7 L408.9 242.8 L407.7 242.9 L406.6 243.1 L405.4 243.2 L404.3 243.3 L403.1 243.4 L401.9 243.6 L400.8 243.7 L399.6 243.8 L398.4 244.0 L397.3 244.1 L396.1 244.2 L394.9 244.3 L393.8 244.5 L392.6 244.6 L391.4 244.7 L390.3 244.9 L389.1 245.0 L387.9 245.1 L386.8 245.3 L385.6 245.4 L384.4 245.5 L383.3 245.7 L382.1 245.8 L380.9 246.0 L379.7 246.1 L378.5 246.2 L377.2 246.4 L376.0 246.5 L374.8 246.7 L373.6 246.8 L372.4 247.0 L371.2 247.1 L370.1 247.3 L368.9 247.4 L367.7 247.6 L366.6 247.7 L365.5 247.8 L364.4 248.0 L363.3 248.1 L362.2 248.3 L361.2 248.4 L359.9 248.6 L358.5 248.7 L357.1 248.8 L355.7 248.8 L354.3 248.9 L352.9 249.0 L351.6 249.1 L350.4 249.2 L349.3 249.3 L348.3 249.5 L347.4 249.8 L346.7 250.2 L346.2 250.6 L345.9 251.6 L346.1 252.8 L346.4 254.1 L346.2 255.3 L345.6 256.0 L344.7 256.7 L343.5 257.4 L342.1 258.1 L340.8 258.7 L339.6 259.4 L338.6 259.9 L338.0 260.4 L337.8 260.9 L338.0 261.2 L338.6 261.5 L339.4 261.7 L340.4 261.9 L341.6 262.1 L342.9 262.2 L344.3 262.3 L345.7 262.4 L347.2 262.5 L348.6 262.6 L350.0 262.8 L351.0 262.9 L352.0 263.1 L353.1 263.2 L354.1 263.3 L355.3 263.5 L356.4 263.6 L357.6 263.7 L358.8 263.9 L360.0 264.0 L361.2 264.1 L362.4 264.3 L363.7 264.4 L364.9 264.5 L366.2 264.7 L367.4 264.8 L368.7 264.9 L370.0 265.0 L371.2 265.1 L372.5 265.3 L373.7 265.4 L375.0 265.5 L376.2 265.6 L377.4 265.7 L378.5 265.8 L379.7 265.9 L380.9 265.9 L382.0 266.0 L383.2 266.1 L384.4 266.2 L385.6 266.2 L386.8 266.3 L388.0 266.3 L389.2 266.4 L390.4 266.5 L391.6 266.5 L392.8 266.6 L394.0 266.7 L395.1 266.7 L396.3 266.8 L397.5 266.9 L398.6 267.0 L399.8 267.1 L400.9 267.2 L402.1 267.3 L403.2 267.4 L404.3 267.5 L405.5 267.6 L406.7 267.8 L407.8 267.9 L409.0 268.1 L410.1 268.3 L411.2 268.4 L412.3 268.6 L413.4 268.8 L414.6 269.0 L415.7 269.2 L416.8 269.4 L417.9 269.6 L419.0 269.8 L420.1 270.0 L421.2 270.2 L422.3 270.4 L423.4 270.6 L424.5 270.8 L425.7 271.0 L426.8 271.2 L427.9 271.4 L429.1 271.6 L430.2 271.9 L431.4 272.1 L432.5 272.3 L433.6 272.6 L434.8 272.8 L435.9 273.1 L437.1 273.3 L438.2 273.5 L439.4 273.8 L440.6 274.0 L441.7 274.3 L442.9 274.5 L444.1 274.7 L445.2 275.0 L446.4 275.2 L447.6 275.4 L448.8 275.6 L450.0 275.7 L451.2 275.9 L452.3 276.0 L453.4 276.2 L454.6 276.3 L455.7 276.4 L456.8 276.5 L457.9 276.6 L459.1 276.7 L460.2 276.8 L461.3 276.9 L462.5 277.0 L463.6 277.0 L464.8 277.1 L465.9 277.2 L467.1 277.2 L468.3 277.3 L469.5 277.4 L470.7 277.4 L471.9 277.5 L473.1 277.5 L474.3 277.6 L475.5 277.6 L476.8 277.7 L478.0 277.7 L479.3 277.8 L480.9 277.9 L482.5 277.9 L484.1 278.0 L485.8 278.0 L487.5 278.0 L489.3 278.1 L491.1 278.1 L492.8 278.1 L494.6 278.2 L496.5 278.2 L498.3 278.2 L500.1 278.2 L501.9 278.2 L503.7 278.3 L505.5 278.3 L507.2 278.3 L509.0 278.3 L510.7 278.4 L512.3 278.4 L514.0 278.4 L515.5 278.5 L517.1 278.6 L518.6 278.6 L520.0 278.7 L521.3 278.8 L522.6 278.9 L523.8 279.0 L525.0 279.1 L526.1 279.2 L527.2 279.3 L528.3 279.4 L529.3 279.5 L530.4 279.6 L531.5 279.7 L532.5 279.8 L533.7 279.9 L534.8 280.1 L536.0 280.2 L537.3 280.3 L538.6 280.5 L540.0 280.6 L541.7 280.8 L543.5 280.9 L545.3 281.1 L547.2 281.3 L549.2 281.5 L551.2 281.8 L553.3 282.0 L555.5 282.2 L557.7 282.4 L559.9 282.7 L562.1 282.9 L564.4 283.2 L566.7 283.4 L569.0 283.6 L571.3 283.9 L573.6 284.1 L575.9 284.4 L578.2 284.6 L580.5 284.8 L582.8 285.0 L585.0 285.2 L587.2 285.4 L589.4 285.6 L591.5 285.8 L593.5 286.0 L595.5 286.1 L597.5 286.3 L599.5 286.4 L601.5 286.5 L603.5 286.7 L605.5 286.8 L607.5 286.9 L609.5 287.0 L611.5 287.2 L613.5 287.3 L615.4 287.4 L617.4 287.5 L619.4 287.6 L621.4 287.7 L623.3 287.9 L625.3 288.0 L627.3 288.1 L629.2 288.2 L631.2 288.3 L633.1 288.5 L635.1 288.6 L637.0 288.8 L639.0 288.9 L640.9 289.0 L642.9 289.2 L644.9 289.3 L646.8 289.5 L648.9 289.6 L650.9 289.8 L652.9 289.9 L654.9 290.1 L657.0 290.2 L659.0 290.4 L661.0 290.6 L663.0 290.7 L665.0 290.9 L666.9 291.0 L668.8 291.2 L670.7 291.4 L672.6 291.6 L674.4 291.8 L676.2 292.0 L677.9 292.1 L679.6 292.4 L681.2 292.6 L682.8 292.8 L684.3 293.0 L685.7 293.2 L687.2 293.5 L688.6 293.7 L690.0 294.0 L691.4 294.3 L692.7 294.6 L694.0 294.8 L695.3 295.1 L696.5 295.4 L697.7 295.7 L698.7 295.9 L699.8 296.2 L700.7 296.5 L701.5 296.7 L702.3 296.9 L702.9 297.1 L704.3 297.5 L705.0 298.0 L704.9 298.5 L704.4 299.2 L703.7 300.0 L702.8 300.8 L701.8 301.6 L700.8 302.3 L699.9 302.8 L698.7 303.3 L697.4 303.8 L696.0 304.3 L694.7 304.8 L693.4 305.3 L692.2 305.7 L691.3 306.2 L690.7 306.6 L690.5 307.0 L690.7 307.4 L691.2 307.8 L692.0 308.2 L693.0 308.5 L694.2 308.9 L695.5 309.2 L696.8 309.5 L698.2 309.9 L699.5 310.2 L700.8 310.5 L701.9 310.8 L703.1 311.0 L704.5 311.2 L705.9 311.4 L707.4 311.6 L709.0 311.9 L710.5 312.1 L712.1 312.3 L713.5 312.5 L714.9 312.7 L716.1 312.9 L717.2 313.1 L718.1 313.3 L718.8 313.5 L719.2 313.8 L719.4 314.0 L719.3 314.2 L719.0 314.5 L718.5 314.7 L717.9 315.0 L717.1 315.2 L716.2 315.5 L715.1 315.8 L713.9 316.1 L712.7 316.3 L711.3 316.6 L709.9 316.9 L708.4 317.2 L706.9 317.5 L705.4 317.8 L703.8 318.0 L702.2 318.3 L700.7 318.5 L699.2 318.8 L697.7 319.0 L696.3 319.2 L695.0 319.4 L693.7 319.6 L692.6 319.8 L691.4 320.0 L690.2 320.1 L689.1 320.2 L687.9 320.3 L686.8 320.4 L685.7 320.5 L684.6 320.5 L683.5 320.6 L682.4 320.7 L681.2 320.7 L680.1 320.8 L679.0 320.8 L677.9 320.9 L676.8 320.9 L675.6 321.0 L674.4 321.1 L673.2 321.3 L672.0 321.4 L670.9 321.5 L669.8 321.7 L668.7 321.9 L667.5 322.1 L666.4 322.3 L665.2 322.5 L664.1 322.7 L662.9 322.9 L661.7 323.1 L660.6 323.3 L659.4 323.6 L658.2 323.8 L657.0 324.1 L655.8 324.3 L654.5 324.5 L653.3 324.8 L652.1 325.0 L650.8 325.2 L649.5 325.4 L648.3 325.6 L647.0 325.8 L645.7 326.0 L644.4 326.2 L643.1 326.4 L641.5 326.6 L639.9 326.8 L638.3 326.9 L636.7 327.1 L635.1 327.3 L633.4 327.4 L631.8 327.6 L630.1 327.7 L628.4 327.8 L626.7 327.9 L625.0 328.1 L623.3 328.2 L621.5 328.3 L619.8 328.4 L618.0 328.5 L616.3 328.7 L614.5 328.8 L612.7 328.9 L610.9 329.0 L609.1 329.1 L607.3 329.3 L605.5 329.4 L603.7 329.6 L601.9 329.7 L599.9 329.9 L597.8 330.0 L595.7 330.2 L593.6 330.4 L591.5 330.6 L589.4 330.8 L587.2 331.0 L585.1 331.2 L582.9 331.4 L580.7 331.6 L578.5 331.8 L576.3 332.0 L574.2 332.2 L572.0 332.4 L569.8 332.5 L567.6 332.7 L565.4 332.9 L563.2 333.1 L561.0 333.3 L558.9 333.5 L556.7 333.7 L554.6 333.9 L552.4 334.0 L550.3 334.2 L548.2 334.4 L546.1 334.5 L544.0 334.6 L541.8 334.7 L539.6 334.8 L537.4 334.9 L535.2 335.0 L533.0 335.1 L530.8 335.2 L528.6 335.2 L526.4 335.3 L524.2 335.4 L522.0 335.5 L519.9 335.6 L517.9 335.7 L515.9 335.8 L513.9 336.0 L512.0 336.1 L510.2 336.3 L508.4 336.5 L506.7 336.8 L505.2 337.0 L503.7 337.3 L502.3 337.6 L501.0 338.0 L499.8 338.4 L498.8 338.8 L497.9 339.3 L497.1 339.7 L496.3 340.2 L495.5 340.7 L494.6 341.2 L493.6 341.7 L492.6 342.2 L491.3 342.6 L489.9 343.0 L487.9 343.5 L485.6 343.9 L483.1 344.3 L480.3 344.7 L477.4 345.1 L474.3 345.5 L471.0 345.8 L467.6 346.2 L464.1 346.5 L460.4 346.8 L456.7 347.1 L452.9 347.4 L449.0 347.6 L445.0 347.9 L441.1 348.1 L437.1 348.4 L433.2 348.6 L429.3 348.8 L425.4 349.0 L421.6 349.2 L417.9 349.4 L414.3 349.6 L410.8 349.8 L407.4 350.0 L404.4 350.2 L401.3 350.3 L398.3 350.5 L395.3 350.6 L392.3 350.7 L389.3 350.8 L386.3 350.9 L383.3 350.9 L380.3 351.0 L377.3 351.1 L374.4 351.1 L371.4 351.2 L368.5 351.2 L365.6 351.3 L362.6 351.4 L359.8 351.4 L356.9 351.5 L354.0 351.6 L351.2 351.6 L348.4 351.7 L345.6 351.8 L342.8 351.9 L340.0 352.1 L337.3 352.2 L334.9 352.3 L332.5 352.5 L330.1 352.6 L327.7 352.7 L325.4 352.9 L323.0 353.0 L320.6 353.2 L318.3 353.3 L315.9 353.5 L313.6 353.6 L311.3 353.8 L309.0 354.0 L306.7 354.1 L304.4 354.3 L302.2 354.5 L300.0 354.7 L297.8 354.9 L295.7 355.1 L293.6 355.3 L291.5 355.5 L289.5 355.7 L287.5 355.9 L285.6 356.2 L283.7 356.4 L282.4 356.6 L281.0 356.8 L279.7 357.0 L278.5 357.2 L277.2 357.4 L276.0 357.6 L274.8 357.8 L273.6 358.0 L272.4 358.2 L271.3 358.5 L270.1 358.7 L269.0 358.9 L267.9 359.2 L266.8 359.4 L265.7 359.6 L264.5 359.8 L263.4 360.0 L262.3 360.3 L261.2 360.5 L260.1 360.7 L259.0 360.9 L257.9 361.1 L256.7 361.2 L255.6 361.4 L254.4 361.6 L253.2 361.7 L252.0 361.9 L250.8 362.0 L249.6 362.2 L248.5 362.3 L247.3 362.4 L246.1 362.6 L244.9 362.7 L243.7 362.8 L242.6 362.9 L241.4 363.0 L240.2 363.1 L239.0 363.3 L237.9 363.4 L236.7 363.5 L235.5 363.6 L234.4 363.7 L233.2 363.8 L232.0 364.0 L230.9 364.1 L229.7 364.2 L228.5 364.3 L227.3 364.5 L226.1 364.6 L224.9 364.7 L223.7 364.9 L222.5 365.0 L221.3 365.2 L220.1 365.3 L218.9 365.4 L217.7 365.6 L216.5 365.7 L215.3 365.9 L214.2 366.0 L213.0 366.1 L211.8 366.3 L210.7 366.4 L209.5 366.5 L208.4 366.6 L207.2 366.8 L206.1 366.9 L205.0 367.0 L203.7 367.1 L202.4 367.2 L201.2 367.3 L199.9 367.5 L198.6 367.6 L197.3 367.7 L196.1 367.7 L194.8 367.8 L193.6 367.9 L192.4 368.0 L191.3 368.1 L190.1 368.2 L189.0 368.3 L187.9 368.4 L186.9 368.6 L185.9 368.7 L184.6 368.9 L183.4 369.1 L182.3 369.3 L181.2 369.5 L180.2 369.7 L179.1 369.9 L178.0 370.2 L176.9 370.4 L175.7 370.6 L174.3 370.9 L172.9 371.1 L171.4 371.4 L170.1 371.6 L168.8 371.9 L167.9 372.1 L167.2 372.4 L167.0 372.6 L167.3 372.9 L168.1 373.2 L169.3 373.5 L170.7 373.8 L172.2 374.0 L173.7 374.0 L175.0 374.0 L176.1 373.8 L177.1 373.3 L178.3 372.8 L179.4 372.1 L180.6 371.5 L181.7 370.8 L182.8 370.2 L183.9 369.8 L185.0 369.5 L186.0 369.5 L186.9 369.8 L187.8 370.2 L188.6 370.9 L189.4 371.7 L190.2 372.5 L191.0 373.3 L191.9 374.2 L192.9 374.9 L194.0 375.5 L194.9 375.8 L195.8 376.1 L196.8 376.4 L197.9 376.7 L199.1 376.9 L200.3 377.1 L201.5 377.3 L202.8 377.5 L204.1 377.7 L205.4 377.9 L206.8 378.0 L208.1 378.2 L209.4 378.3 L210.7 378.4 L212.0 378.6 L213.2 378.7 L214.4 378.8 L215.5 379.0 L216.6 379.1 L217.6 379.2 L218.5 379.4 L219.8 379.7 L221.0 379.9 L222.1 380.1 L223.2 380.4 L224.2 380.6 L225.2 380.8 L226.3 381.0 L227.5 381.2 L228.6 381.3 L230.0 381.4 L231.4 381.5 L232.9 381.5 L234.4 381.6 L235.8 381.6 L237.1 381.7 L238.2 381.8 L239.1 382.0 L239.7 382.2 L240.0 382.5 L239.8 382.9 L239.0 383.4 L237.9 384.0 L236.5 384.6 L234.9 385.3 L233.4 386.0 L231.9 386.7 L230.8 387.3 L230.0 387.9 L229.7 388.4 L230.0 388.9 L230.7 389.4 L231.7 389.8 L232.9 390.3 L234.2 390.7 L235.7 391.1 L237.0 391.5 L237.9 391.8 L238.8 392.1 L239.8 392.4 L240.8 392.7 L241.9 393.1 L242.9 393.4 L244.0 393.7 L245.2 394.0 L246.3 394.3 L247.5 394.6 L248.7 394.9 L249.9 395.2 L251.1 395.5 L252.4 395.8 L253.6 396.1 L254.8 396.3 L255.8 396.5 L256.9 396.7 L257.9 396.9 L258.9 397.1 L260.0 397.2 L261.0 397.4 L262.1 397.6 L263.1 397.7 L264.2 397.9 L265.3 398.0 L266.4 398.2 L267.5 398.3 L268.6 398.5 L269.8 398.6 L270.9 398.7 L272.1 398.9 L273.4 399.0 L274.6 399.1 L275.9 399.2 L277.2 399.4 L278.6 399.5 L280.0 399.6 L282.1 399.8 L284.3 399.9 L286.6 400.1 L289.0 400.2 L291.4 400.4 L293.9 400.5 L296.4 400.6 L299.0 400.7 L301.7 400.8 L304.4 400.9 L307.1 401.0 L309.9 401.1 L312.8 401.2 L315.7 401.3 L318.6 401.4 L321.5 401.5 L324.5 401.6 L327.4 401.7 L330.4 401.8 L333.5 401.9 L336.5 402.1 L339.5 402.2 L342.6 402.3 L345.6 402.5 L349.5 402.7 L353.4 402.9 L357.5 403.1 L361.6 403.4 L365.9 403.6 L370.1 403.8 L374.5 404.1 L378.9 404.4 L383.3 404.6 L387.8 404.9 L392.3 405.1 L396.8 405.4 L401.3 405.7 L405.8 406.0 L410.3 406.2 L414.7 406.5 L419.2 406.8 L423.6 407.1 L427.9 407.4 L432.2 407.6 L436.5 407.9 L440.6 408.2 L444.7 408.4 L448.7 408.7 L452.1 408.9 L455.5 409.1 L458.9 409.3 L462.4 409.4 L465.9 409.6 L469.4 409.7 L472.9 409.9 L476.4 410.0 L479.8 410.2 L483.2 410.3 L486.6 410.4 L490.0 410.6 L493.2 410.8 L496.5 410.9 L499.6 411.1 L502.7 411.3 L505.6 411.6 L508.5 411.8 L511.2 412.1 L513.8 412.4 L516.3 412.8 L518.7 413.1 L520.9 413.5 L522.9 414.0 L524.4 414.4 L525.7 414.8 L526.9 415.3 L527.9 415.7 L528.9 416.2 L529.9 416.8 L530.8 417.3 L531.7 417.8 L532.6 418.3 L533.5 418.8 L534.5 419.3 L535.6 419.8 L536.7 420.2 L538.0 420.6 L539.4 421.0 L541.2 421.4 L543.0 421.7 L545.0 422.1 L547.0 422.4 L549.1 422.6 L551.4 422.9 L553.6 423.1 L556.0 423.3 L558.4 423.4 L560.9 423.6 L563.5 423.7 L566.1 423.9 L568.7 424.0 L571.4 424.1 L574.2 424.2 L576.9 424.3 L579.8 424.4 L582.6 424.5 L585.5 424.6 L588.3 424.7 L591.2 424.8 L594.2 424.9 L597.1 425.1 L600.0 425.2 L604.1 425.4 L608.5 425.6 L613.1 425.8 L617.8 426.0 L622.7 426.2 L627.8 426.4 L633.0 426.6 L638.2 426.8 L643.5 427.0 L648.9 427.2 L654.3 427.3 L659.6 427.5 L664.9 427.7 L670.2 427.9 L675.3 428.0 L680.4 428.2 L685.3 428.4 L690.0 428.5 L694.6 428.7 L699.0 428.9 L703.1 429.0 L706.9 429.2 L710.5 429.3 L713.7 429.5 L715.3 429.6 L716.8 429.7 L718.2 429.7 L719.6 429.8 L720.9 429.9 L722.2 430.0 L723.4 430.0 L724.6 430.1 L725.7 430.2 L726.9 430.3 L728.0 430.3 L729.0 430.4 L730.1 430.5 L731.2 430.6 L732.2 430.6 L733.3 430.7 L734.3 430.8 L735.4 430.9 L736.5 430.9 L737.6 431.0 L738.8 431.1 L740.0 431.2 L741.2 431.3 L742.3 431.4 L743.5 431.5 L744.7 431.6 L745.8 431.7 L747.0 431.7 L748.2 431.8 L749.4 431.9 L750.6 432.0 L751.8 432.1 L753.0 432.2 L754.2 432.3 L755.4 432.4 L756.6 432.5 L757.8 432.6 L758.9 432.7 L760.1 432.8 L761.3 432.9 L762.4 433.0 L763.6 433.1 L764.7 433.2 L765.9 433.3 L767.0 433.4 L768.1 433.5 L769.3 433.6 L770.6 433.7 L771.8 433.8 L773.0 433.9 L774.2 434.0 L775.4 434.1 L776.6 434.2 L777.7 434.2 L778.9 434.3 L780.1 434.4 L781.3 434.5 L782.4 434.6 L783.6 434.7 L784.7 434.8 L785.9 434.8 L787.1 434.9 L788.2 435.0 L789.4 435.1 L790.6 435.2 L791.8 435.3 L793.0 435.4 L794.3 435.5 L795.5 435.5 L796.8 435.6 L798.1 435.7 L799.4 435.8 L800.7 435.8 L801.9 435.9 L803.2 436.0 L804.4 436.1 L805.7 436.2 L806.9 436.3 L808.0 436.4 L809.1 436.4 L810.2 436.6 L811.2 436.7 L812.2 436.8 L813.1 436.9 L814.4 437.1 L815.6 437.4 L816.6 437.6 L817.7 437.9 L818.7 438.1 L819.8 438.4 L821.0 438.6 L822.1 438.7 L823.3 438.9 L824.7 439.0 L826.1 439.1 L827.6 439.2 L829.1 439.3 L830.5 439.4 L831.9 439.5 L833.1 439.6 L834.1 439.7 L834.9 439.9 L835.4 440.0 L835.6 440.2 L835.4 440.4 L834.8 440.6 L833.9 440.9 L832.7 441.1 L831.2 441.4 L829.7 441.7 L828.0 441.9 L826.3 442.2 L824.7 442.5 L823.1 442.8 L821.7 443.1 L820.5 443.4 L819.5 443.7 L818.9 443.9 L818.7 444.2 L818.9 444.5 L819.6 444.8 L820.5 445.1 L821.7 445.4 L823.1 445.7 L824.6 445.9 L826.1 446.2 L827.6 446.5 L828.9 446.7 L830.0 447.0 L831.4 447.3 L832.9 447.6 L834.3 447.8 L835.5 448.1 L836.4 448.4 L836.7 448.7 L836.5 448.9 L835.9 449.2 L835.0 449.4 L833.8 449.7 L832.5 450.0 L831.0 450.2 L829.6 450.5 L828.1 450.8 L826.7 451.2 L825.5 451.5 L824.4 451.8 L823.3 452.1 L822.1 452.5 L821.0 452.8 L819.8 453.1 L818.7 453.5 L817.6 453.9 L816.6 454.3 L815.7 454.8 L814.9 455.4 L814.2 456.0 L813.6 457.0 L813.3 458.1 L813.2 459.4 L813.1 460.7 L813.0 461.9 L812.6 463.0 L812.0 463.9 L811.3 464.4 L810.4 464.8 L809.4 465.1 L808.3 465.3 L807.2 465.5 L805.9 465.6 L804.6 465.7 L803.4 465.7 L802.1 465.8 L800.8 465.9 L799.6 466.0 L798.5 466.1 L797.2 466.3 L795.8 466.4 L794.4 466.5 L792.9 466.6 L791.5 466.7 L790.2 466.8 L789.0 467.0 L788.1 467.2 L787.5 467.4 L787.2 467.8 L787.4 468.3 L788.0 468.8 L788.9 469.4 L790.0 470.1 L791.2 470.8 L792.4 471.5 L793.3 472.2 L794.0 472.9 L794.6 473.9 L795.1 474.9 L795.3 475.9 L795.1 476.8 L794.7 477.4 L794.1 478.0 L793.2 478.5 L792.2 479.1 L791.0 479.6 L789.8 480.1 L788.6 480.6 L787.3 481.0 L786.1 481.5 L785.0 481.9 L783.9 482.3 L782.8 482.7 L781.7 483.1 L780.6 483.4 L779.5 483.7 L778.4 484.1 L777.2 484.4 L776.1 484.6 L774.9 484.9 L773.7 485.2 L772.6 485.4 L771.6 485.6 L770.5 485.8 L769.4 486.0 L768.3 486.2 L767.2 486.4 L766.1 486.5 L765.0 486.7 L763.8 486.9 L762.6 487.0 L761.5 487.2 L760.3 487.3 L759.1 487.5 L758.1 487.6 L757.0 487.8 L756.0 487.9 L755.0 488.0 L753.9 488.2 L752.9 488.3 L751.8 488.4 L750.8 488.6 L749.7 488.7 L748.6 488.8 L747.5 488.9 L746.3 489.1 L745.1 489.2 L743.9 489.3 L742.7 489.4 L741.3 489.6 L740.0 489.7 L738.4 489.8 L736.7 490.0 L734.9 490.1 L733.0 490.2 L731.0 490.3 L729.0 490.4 L726.9 490.5 L724.8 490.5 L722.6 490.6 L720.4 490.7 L718.1 490.8 L715.9 490.9 L713.7 491.0 L711.5 491.1 L709.3 491.3 L707.2 491.4 L705.1 491.6 L703.1 491.8 L701.2 492.0 L699.4 492.2 L697.6 492.5 L696.0 492.7 L694.5 493.1 L693.1 493.4 L691.8 493.8 L690.6 494.3 L689.6 494.8 L688.6 495.4 L687.8 495.9 L686.9 496.5 L686.1 497.1 L685.2 497.7 L684.3 498.2 L683.2 498.7 L682.0 499.2 L680.7 499.6 L679.3 499.9 L677.7 500.3 L676.1 500.5 L674.3 500.8 L672.4 501.0 L670.5 501.2 L668.4 501.4 L666.3 501.5 L664.1 501.6 L661.9 501.8 L659.7 501.8 L657.4 501.9 L655.1 502.0 L652.7 502.1 L650.4 502.1 L648.1 502.2 L645.8 502.3 L643.6 502.3 L641.4 502.4 L639.2 502.5 L637.1 502.6 L635.0 502.7 L633.1 502.8 L631.2 502.9 L629.8 503.0 L628.4 503.1 L627.0 503.2 L625.7 503.3 L624.3 503.4 L623.1 503.6 L621.8 503.7 L620.5 503.8 L619.3 503.9 L618.0 504.0 L616.8 504.1 L615.6 504.2 L614.3 504.3 L613.1 504.4 L611.9 504.5 L610.6 504.7 L609.4 504.8 L608.1 504.9 L606.8 505.0 L605.5 505.1 L604.2 505.2 L602.8 505.4 L601.4 505.5 L600.0 505.6 L598.2 505.8 L596.3 505.9 L594.4 506.1 L592.4 506.2 L590.5 506.4 L588.4 506.6 L586.4 506.7 L584.3 506.9 L582.2 507.1 L580.1 507.2 L578.0 507.4 L575.8 507.6 L573.7 507.8 L571.6 507.9 L569.5 508.1 L567.4 508.3 L565.4 508.5 L563.3 508.6 L561.3 508.8 L559.4 509.0 L557.5 509.2 L555.6 509.4 L553.8 509.5 L552.0 509.7 L550.7 509.8 L549.4 510.0 L548.1 510.1 L546.9 510.2 L545.7 510.4 L544.4 510.5 L543.2 510.7 L542.1 510.8 L540.9 510.9 L539.7 511.1 L538.6 511.2 L537.5 511.4 L536.3 511.5 L535.2 511.6 L534.1 511.8 L533.0 511.9 L531.9 512.0 L530.7 512.2 L529.6 512.3 L528.5 512.4 L527.4 512.5 L526.3 512.7 L525.1 512.8 L524.0 512.9 L522.8 513.0 L521.6 513.1 L520.4 513.2 L519.2 513.3 L518.0 513.4 L516.8 513.5 L515.6 513.6 L514.4 513.7 L513.2 513.8 L512.0 513.8 L510.8 513.9 L509.6 514.0 L508.5 514.1 L507.3 514.2 L506.1 514.3 L505.0 514.4 L503.8 514.5 L502.6 514.6 L501.5 514.7 L500.4 514.8 L499.2 515.0 L498.1 515.1 L496.9 515.3 L495.7 515.4 L494.6 515.6 L493.4 515.8 L492.3 516.0 L491.2 516.2 L490.0 516.5 L488.9 516.7 L487.8 516.9 L486.7 517.1 L485.6 517.4 L484.4 517.6 L483.3 517.8 L482.2 518.0 L481.1 518.2 L480.0 518.4 L478.9 518.6 L477.7 518.8 L476.6 519.0 L475.5 519.2 L474.3 519.3 L473.2 519.5 L472.1 519.7 L471.0 519.8 L469.8 520.0 L468.7 520.1 L467.6 520.3 L466.4 520.4 L465.3 520.6 L464.2 520.7 L463.0 520.8 L461.9 520.9 L460.8 521.1 L459.6 521.2 L458.5 521.3 L457.3 521.4 L456.2 521.5 L455.0 521.6 L453.8 521.7 L452.7 521.8 L451.5 521.8 L450.4 521.9 L449.2 521.9 L448.0 522.0 L446.8 522.0 L445.7 522.1 L444.5 522.1 L443.3 522.1 L442.1 522.2 L440.9 522.2 L439.7 522.2 L438.5 522.3 L437.3 522.3 L436.1 522.4 L434.9 522.4 L433.7 522.5 L432.5 522.5 L431.3 522.6 L430.1 522.7 L429.0 522.8 L427.8 522.8 L426.6 522.9 L425.4 523.0 L424.2 523.1 L423.1 523.2 L421.9 523.3 L420.7 523.3 L419.5 523.4 L418.3 523.5 L417.1 523.6 L415.9 523.7 L414.7 523.9 L413.5 524.0 L412.3 524.1 L411.1 524.2 L410.0 524.3 L408.8 524.4 L407.7 524.5 L406.5 524.7 L405.4 524.8 L404.2 524.9 L403.1 525.1 L401.9 525.2 L400.8 525.4 L399.6 525.6 L398.5 525.7 L397.4 525.9 L396.3 526.1 L395.2 526.3 L394.1 526.4 L393.0 526.6 L391.9 526.8 L390.8 527.0 L389.6 527.1 L388.5 527.3 L387.4 527.5 L386.2 527.7 L385.1 527.8 L383.9 528.0 L382.8 528.2 L381.6 528.3 L380.5 528.5 L379.3 528.6 L378.2 528.8 L377.0 528.9 L375.8 529.1 L374.6 529.2 L373.4 529.4 L372.2 529.5 L371.0 529.7 L369.8 529.8 L368.6 530.0 L367.4 530.1 L366.2 530.3 L365.0 530.4 L363.9 530.6 L362.7 530.7 L361.5 530.8 L360.3 531.0 L359.2 531.1 L358.0 531.3 L356.7 531.5 L355.4 531.6 L354.0 531.7 L352.5 531.8 L351.0 532.0 L349.4 532.1 L347.8 532.2 L346.3 532.3 L344.8 532.4 L343.3 532.5 L341.9 532.6 L340.5 532.8 L339.2 532.9 L338.1 533.1 L337.1 533.3 L336.2 533.5 L335.4 533.7 L334.9 533.9 L334.5 534.2 L334.3 534.5 L334.4 535.0 L334.8 535.6 L335.6 536.2 L336.5 536.9 L337.7 537.6 L338.9 538.2 L340.3 538.9 L341.6 539.4 L342.9 539.9 L343.8 540.2 L344.8 540.4 L345.8 540.6 L346.8 540.8 L347.9 540.9 L349.1 541.1 L350.3 541.2 L351.5 541.3 L352.7 541.3 L354.0 541.4 L355.2 541.5 L356.5 541.5 L357.8 541.6 L359.1 541.6 L360.4 541.6 L361.7 541.7 L362.9 541.8 L364.2 541.8 L365.4 541.9 L366.6 542.0 L367.8 542.1 L369.0 542.2 L370.2 542.3 L371.4 542.4 L372.6 542.5 L373.8 542.7 L375.0 542.8 L376.2 542.9 L377.4 543.0 L378.6 543.1 L379.8 543.2 L381.0 543.3 L382.2 543.4 L383.3 543.5 L384.5 543.6 L385.7 543.8 L386.9 543.9 L388.1 544.0 L389.2 544.1 L390.4 544.2 L391.6 544.3 L392.7 544.4 L393.8 544.5 L395.0 544.6 L396.1 544.7 L397.2 544.8 L398.4 544.9 L399.5 545.0 L400.6 545.1 L401.7 545.2 L402.8 545.3 L404.0 545.4 L405.1 545.5 L406.2 545.6 L407.3 545.7 L408.5 545.9 L409.6 546.0 L410.7 546.1 L411.9 546.3 L413.0 546.5 L414.2 546.6 L415.4 546.8 L416.6 547.0 L417.9 547.1 L419.2 547.3 L420.5 547.5 L421.7 547.7 L423.0 547.9 L424.3 548.1 L425.5 548.3 L426.8 548.5 L428.0 548.7 L429.1 548.9 L430.2 549.1 L431.3 549.4 L432.3 549.6 L433.2 549.9 L434.1 550.1 L434.9 550.4 L435.6 550.7 L436.7 551.3 L437.5 552.0 L438.2 552.6 L438.9 553.3 L439.9 553.9 L440.7 554.2 L441.6 554.6 L442.7 554.9 L443.8 555.1 L445.0 555.4 L446.2 555.7 L447.5 555.9 L448.7 556.2 L450.0 556.5 L451.1 556.8 L452.3 557.1 L453.3 557.4 L454.2 557.8 L455.0 558.2 L455.9 558.9 L456.5 559.6 L457.1 560.4 L457.6 561.2 L458.3 561.9 L459.3 562.5 L460.0 562.8 L460.8 563.0 L461.7 563.2 L462.7 563.4 L463.7 563.5 L464.8 563.6 L465.9 563.7 L467.1 563.8 L468.3 563.8 L469.5 563.8 L470.8 563.9 L472.0 563.9 L473.3 563.9 L474.6 563.9 L475.9 563.9 L477.2 564.0 L478.5 564.0 L479.7 564.1 L480.9 564.2 L482.0 564.3 L483.2 564.4 L484.3 564.5 L485.5 564.6 L486.7 564.7 L487.8 564.8 L489.0 564.9 L490.2 565.1 L491.4 565.2 L492.6 565.3 L493.8 565.4 L495.0 565.5 L496.2 565.6 L497.4 565.8 L498.6 565.9 L499.8 566.0 L500.9 566.1 L502.1 566.3 L503.3 566.4 L504.5 566.5 L505.6 566.7 L506.8 566.8 L508.0 566.9 L509.2 567.1 L510.5 567.3 L511.7 567.4 L513.0 567.6 L514.2 567.7 L515.5 567.9 L516.7 568.1 L517.9 568.3 L519.2 568.4 L520.4 568.6 L521.6 568.8 L522.8 569.0 L524.0 569.1 L525.1 569.3 L526.2 569.5 L527.3 569.6 L528.4 569.8 L529.5 569.9 L530.5 570.1 L531.9 570.3 L533.4 570.5 L535.0 570.6 L536.6 570.8 L538.1 571.0 L539.5 571.1 L540.7 571.3 L541.8 571.5 L542.7 571.7 L543.2 571.9 L543.4 572.2 L543.3 572.4 L542.9 572.7 L542.4 573.0 L541.6 573.3 L540.7 573.6 L539.6 574.0 L538.4 574.3 L537.0 574.7 L535.6 575.0 L534.2 575.4 L532.7 575.7 L531.1 576.1 L529.6 576.4 L528.1 576.8 L526.7 577.1 L525.3 577.3 L524.0 577.6 L522.9 577.8 L521.8 578.0 L520.7 578.2 L519.6 578.4 L518.4 578.6 L517.3 578.7 L516.1 578.9 L514.9 579.0 L513.7 579.2 L512.6 579.3 L511.4 579.5 L510.2 579.6 L509.0 579.7 L507.8 579.8 L506.6 580.0 L505.4 580.1 L504.1 580.2 L502.9 580.3 L501.7 580.4 L500.5 580.6 L499.3 580.7 L498.1 580.8 L497.0 580.9 L495.8 581.0 L494.7 581.1 L493.5 581.2 L492.4 581.3 L491.2 581.4 L490.1 581.5 L488.9 581.6 L487.8 581.7 L486.6 581.8 L485.5 581.9 L484.3 582.0 L483.1 582.1 L482.0 582.2 L480.8 582.2 L479.6 582.3 L478.4 582.4 L477.3 582.5 L476.1 582.6 L474.9 582.7 L473.7 582.7 L472.5 582.8 L471.3 582.9 L470.1 583.0 L468.8 583.1 L467.5 583.2 L466.2 583.2 L464.9 583.3 L463.6 583.4 L462.2 583.5 L460.9 583.5 L459.6 583.6 L458.2 583.6 L456.9 583.7 L455.6 583.8 L454.2 583.8 L452.9 583.9 L451.5 584.0 L450.1 584.0 L448.8 584.1 L447.4 584.2 L446.1 584.3 L444.7 584.4 L443.3 584.5 L441.9 584.7 L440.6 584.8 L439.2 584.9 L437.8 585.1 L436.3 585.3 L434.8 585.5 L433.3 585.7 L431.7 585.9 L430.2 586.2 L428.6 586.4 L427.0 586.7 L425.4 586.9 L423.8 587.2 L422.2 587.5 L420.7 587.8 L419.1 588.1 L417.5 588.4 L415.9 588.7 L414.4 589.0 L412.8 589.3 L411.3 589.6 L409.8 589.9 L408.3 590.2 L406.8 590.5 L405.3 590.7 L403.9 591.0 L402.5 591.3 L401.1 591.6 L399.8 591.9 L398.6 592.1 L397.3 592.4 L396.1 592.7 L394.8 592.9 L393.6 593.2 L392.4 593.5 L391.2 593.7 L390.0 594.0 L388.8 594.3 L387.6 594.6 L386.5 594.8 L385.3 595.1 L384.2 595.4 L383.2 595.6 L382.1 595.9 L381.1 596.1 L380.1 596.3 L379.2 596.6 L378.3 596.8 L377.4 597.0 L376.0 597.3 L374.6 597.5 L373.1 597.8 L371.8 598.0 L370.6 598.2 L369.7 598.5 L369.1 598.8 L368.8 599.2 L368.9 599.5 L369.3 599.9 L370.0 600.2 L370.8 600.6 L371.9 601.0 L373.1 601.5 L374.4 601.9 L375.8 602.4 L377.3 602.9 L378.8 603.4 L380.3 603.9 L381.7 604.4 L383.1 605.0 L384.5 605.5 L385.7 606.1 L386.7 606.7 L387.6 607.2 L388.2 607.8 L389.0 608.8 L389.7 609.9 L390.2 611.0 L390.5 612.1 L390.6 613.2 L390.4 614.2 L390.1 614.9 L389.6 615.6 L388.9 616.3 L388.1 617.0 L387.1 617.7 L386.1 618.3 L385.1 619.0 L383.9 619.6 L382.8 620.1 L381.7 620.7 L380.8 621.1 L379.8 621.5 L378.8 621.9 L377.8 622.3 L376.7 622.7 L375.5 623.0 L374.4 623.4 L373.2 623.7 L372.0 624.0 L370.8 624.3 L369.6 624.6 L368.3 624.9 L367.1 625.2 L365.9 625.4 L364.7 625.7 L363.5 625.9 L362.3 626.1 L361.2 626.3 L360.1 626.5 L359.0 626.6 L357.8 626.8 L356.7 626.9 L355.6 627.0 L354.5 627.1 L353.3 627.2 L352.2 627.2 L351.1 627.3 L349.9 627.4 L348.8 627.5 L347.7 627.5 L346.5 627.6 L345.4 627.7 L344.2 627.7 L343.1 627.8 L341.9 627.9 L340.7 628.0 L339.6 628.1 L338.4 628.2 L337.2 628.2 L336.1 628.3 L334.9 628.4 L333.7 628.5 L332.5 628.6 L331.3 628.6 L330.2 628.7 L329.0 628.8 L327.8 628.9 L326.6 629.0 L325.4 629.0 L324.2 629.1 L323.0 629.2 L321.8 629.3 L320.6 629.4 L319.4 629.5 L318.2 629.6 L317.0 629.7 L315.8 629.8 L314.6 629.9 L313.4 630.0 L312.1 630.1 L310.9 630.2 L309.6 630.3 L308.4 630.4 L307.2 630.6 L305.9 630.7 L304.7 630.8 L303.5 630.9 L302.3 631.0 L301.1 631.2 L300.0 631.3 L298.9 631.4 L297.8 631.5 L296.7 631.7 L295.7 631.8 L294.5 632.0 L293.3 632.1 L292.2 632.3 L291.2 632.5 L290.1 632.7 L289.1 632.9 L288.1 633.1 L287.1 633.2 L286.0 633.4 L284.9 633.6 L283.7 633.8 L282.5 634.0 L281.5 634.1 L280.4 634.3 L279.3 634.4 L278.2 634.6 L277.0 634.7 L275.8 634.9 L274.6 635.0 L273.4 635.1 L272.1 635.3 L270.9 635.4 L269.6 635.6 L268.4 635.7 L267.1 635.9 L265.9 636.0 L264.6 636.2 L263.4 636.3 L262.2 636.5 L261.0 636.6 L259.9 636.8 L258.8 636.9 L257.7 637.1 L256.4 637.3 L255.2 637.5 L253.9 637.7 L252.7 637.9 L251.5 638.1 L250.4 638.2 L249.2 638.4 L248.1 638.6 L246.9 638.9 L245.8 639.1 L244.6 639.3 L243.5 639.6 L242.4 639.9 L241.2 640.2 L240.0 640.5 L238.7 640.9 L237.4 641.2 L235.9 641.6 L234.5 642.0 L233.0 642.4 L231.6 642.8 L230.2 643.3 L228.9 643.7 L227.8 644.2 L226.7 644.6 L225.9 645.1 L225.3 645.5 L224.9 646.0 L224.7 646.4 L224.8 646.8 L225.2 647.3 L225.7 647.7 L226.4 648.2 L227.3 648.7 L228.3 649.1 L229.5 649.6 L230.7 650.1 L232.0 650.6 L233.4 651.0 L234.7 651.5 L236.1 651.9 L237.5 652.4 L238.8 652.8 L240.0 653.2 L241.2 653.6 L242.3 654.0 L243.4 654.3 L244.5 654.7 L245.6 655.0 L246.7 655.3 L247.8 655.7 L248.9 656.0 L250.1 656.3 L251.2 656.6 L252.4 656.9 L253.6 657.1 L254.7 657.4 L255.9 657.7 L257.1 657.9 L258.3 658.2 L259.5 658.4 L260.7 658.6 L261.9 658.8 L263.0 659.0 L264.2 659.1 L265.3 659.3 L266.4 659.4 L267.6 659.5 L268.8 659.6 L269.9 659.7 L271.1 659.8 L272.3 659.9 L273.5 660.0 L274.7 660.1 L275.9 660.1 L277.1 660.2 L278.3 660.3 L279.5 660.3 L280.7 660.4 L281.9 660.5 L283.0 660.5 L284.2 660.6 L285.4 660.7 L286.6 660.8 L287.8 660.9 L289.0 661.0 L290.1 661.1 L291.3 661.2 L292.5 661.3 L293.7 661.4 L294.9 661.5 L296.1 661.5 L297.2 661.6 L298.4 661.7 L299.6 661.8 L300.8 661.9 L302.0 662.0 L303.1 662.1 L304.3 662.2 L305.5 662.3 L306.7 662.4 L307.8 662.5 L309.0 662.7 L310.1 662.8 L311.3 662.9 L312.5 663.0 L313.6 663.2 L314.7 663.3 L315.9 663.5 L317.0 663.6 L318.1 663.8 L319.2 664.0 L320.4 664.1 L321.5 664.3 L322.6 664.5 L323.7 664.7 L324.8 664.8 L325.9 665.0 L327.1 665.2 L328.2 665.3 L329.3 665.5 L330.5 665.6 L331.7 665.7 L332.8 665.9 L334.0 666.0 L335.1 666.1 L336.3 666.2 L337.4 666.3 L338.5 666.4 L339.7 666.5 L340.9 666.5 L342.0 666.6 L343.2 666.7 L344.4 666.8 L345.5 666.8 L346.7 666.9 L347.9 666.9 L349.1 667.0 L350.3 667.1 L351.5 667.1 L352.6 667.2 L353.8 667.2 L355.0 667.3 L356.2 667.3 L357.3 667.4 L358.5 667.5 L359.7 667.5 L360.8 667.6 L362.0 667.7 L363.2 667.7 L364.4 667.8 L365.6 667.9 L366.7 668.0 L367.9 668.0 L369.1 668.1 L370.2 668.2 L371.4 668.2 L372.6 668.3 L373.7 668.4 L374.9 668.4 L376.1 668.5 L377.2 668.6 L378.4 668.6 L379.6 668.7 L380.8 668.8 L382.0 668.9 L383.2 668.9 L384.4 669.0 L385.6 669.1 L386.8 669.2 L387.9 669.2 L389.1 669.3 L390.2 669.4 L391.4 669.5 L392.5 669.6 L393.7 669.6 L394.9 669.7 L396.0 669.8 L397.2 669.9 L398.4 669.9 L399.6 670.0 L400.7 670.1 L401.9 670.2 L403.1 670.3 L404.4 670.4 L405.6 670.4 L406.8 670.5 L408.0 670.6 L409.3 670.7 L410.6 670.8 L411.8 670.9 L413.1 671.0 L414.4 671.1 L416.0 671.2 L417.5 671.3 L419.1 671.5 L420.7 671.6 L422.4 671.7 L424.0 671.9 L425.7 672.0 L427.3 672.2 L429.0 672.3 L430.7 672.5 L432.4 672.6 L434.1 672.8 L435.9 672.9 L437.6 673.1 L439.3 673.2 L441.1 673.4 L442.8 673.5 L444.5 673.7 L446.3 673.8 L448.0 674.0 L449.8 674.1 L451.5 674.3 L453.3 674.5 L455.0 674.6 L456.8 674.8 L458.7 674.9 L460.6 675.1 L462.6 675.2 L464.5 675.3 L466.5 675.5 L468.5 675.6 L470.5 675.8 L472.5 675.9 L474.5 676.0 L476.5 676.2 L478.5 676.3 L480.5 676.5 L482.4 676.6 L484.3 676.8 L486.2 676.9 L488.1 677.1 L490.0 677.3 L491.8 677.4 L493.5 677.6 L495.2 677.8 L496.9 678.0 L498.5 678.2 L500.0 678.4 L501.3 678.6 L502.6 678.8 L503.8 679.0 L505.0 679.2 L506.2 679.4 L507.3 679.6 L508.4 679.9 L509.4 680.1 L510.5 680.3 L511.5 680.5 L512.6 680.8 L513.6 681.0 L514.7 681.3 L515.7 681.5 L516.8 681.8 L517.9 682.0 L519.0 682.2 L520.2 682.5 L521.3 682.7 L522.4 683.0 L523.5 683.2 L524.6 683.5 L525.7 683.7 L526.8 684.0 L527.9 684.2 L529.1 684.5 L530.2 684.8 L531.4 685.0 L532.5 685.3 L533.7 685.6 L534.8 685.8 L536.0 686.1 L537.1 686.3 L538.3 686.6 L539.4 686.9 L540.5 687.1 L541.7 687.4 L542.8 687.6 L543.9 687.9 L545.0 688.1 L546.1 688.3 L547.3 688.6 L548.4 688.8 L549.5 689.1 L550.7 689.3 L551.8 689.5 L552.9 689.8 L554.0 690.0 L555.1 690.2 L556.3 690.5 L557.4 690.7 L558.5 690.9 L559.6 691.1 L560.7 691.4 L561.8 691.6 L562.9 691.8 L564.0 692.0 L565.2 692.2 L566.3 692.4 L567.4 692.6 L568.5 692.8 L569.6 693.0 L570.7 693.2 L571.9 693.3 L573.0 693.5 L574.1 693.7 L575.2 693.9 L576.3 694.0 L577.4 694.2 L578.5 694.3 L579.6 694.5 L580.7 694.7 L581.8 694.8 L583.0 695.0 L584.1 695.1 L585.3 695.3 L586.4 695.5 L587.6 695.6 L588.8 695.8 L590.0 696.0 L591.2 696.2 L592.3 696.4 L593.5 696.5 L594.7 696.7 L595.9 696.9 L597.1 697.1 L598.3 697.3 L599.5 697.5 L600.8 697.7 L602.0 697.9 L603.2 698.1 L604.5 698.3 L605.7 698.5 L607.0 698.7 L608.3 698.9 L609.5 699.1 L610.8 699.3 L612.1 699.5 L613.4 699.7 L614.7 699.8 L616.0 700.0 L617.3 700.2 L618.7 700.3 L620.0 700.5 L621.5 700.7 L623.1 700.8 L624.7 701.0 L626.3 701.1 L627.9 701.3 L629.5 701.4 L631.1 701.5 L632.7 701.6 L634.4 701.7 L636.0 701.9 L637.7 702.0 L639.4 702.1 L641.0 702.2 L642.7 702.3 L644.4 702.4 L646.1 702.5 L647.8 702.6 L649.4 702.8 L651.1 702.9 L652.8 703.0 L654.4 703.1 L656.1 703.3 L657.8 703.4 L659.4 703.6 L661.0 703.8 L662.7 703.9 L664.3 704.1 L666.0 704.3 L667.6 704.5 L669.2 704.7 L670.9 704.9 L672.5 705.1 L674.1 705.3 L675.8 705.5 L677.4 705.7 L679.1 705.9 L680.7 706.1 L682.3 706.3 L684.0 706.5 L685.6 706.7 L687.2 707.0 L688.9 707.2 L690.5 707.4 L692.1 707.6 L693.8 707.8 L695.4 708.0 L697.1 708.2 L698.7 708.4 L700.3 708.6 L702.0 708.8 L703.6 709.0 L705.3 709.1 L706.9 709.3 L708.6 709.5 L710.2 709.7 L711.8 709.8 L713.5 710.0 L715.1 710.2 L716.8 710.4 L718.4 710.5 L720.1 710.7 L721.7 710.9 L723.3 711.1 L725.0 711.3 L726.6 711.5 L728.3 711.7 L729.9 711.9 L731.6 712.1 L733.2 712.3 L734.8 712.6 L736.5 712.8 L738.1 713.1 L739.7 713.4 L741.4 713.7 L743.0 714.0 L744.6 714.3 L746.2 714.6 L747.9 715.0 L749.5 715.4 L751.1 715.7 L752.7 716.1 L754.3 716.5 L755.9 716.8 L757.5 717.2 L759.1 717.6 L760.8 718.0 L762.4 718.4 L764.0 718.7 L765.7 719.1 L767.3 719.5 L769.0 719.8 L770.6 720.2 L772.3 720.5 L774.0 720.9 L775.7 721.2 L777.4 721.5 L779.3 721.8 L781.2 722.1 L783.1 722.5 L785.0 722.8 L787.0 723.1 L788.9 723.4 L790.9 723.7 L792.9 724.0 L794.9 724.2 L796.8 724.5 L798.8 724.8 L800.8 725.1 L802.8 725.3 L804.8 725.6 L806.9 725.9 L808.9 726.1 L810.9 726.4 L812.9 726.6 L814.8 726.9 L816.8 727.1 L818.8 727.3 L820.8 727.6 L822.7 727.8 L824.7 728.0 L826.6 728.2 L828.5 728.4 L830.5 728.6 L832.5 728.8 L834.4 729.0 L836.5 729.2 L838.5 729.4 L840.5 729.5 L842.5 729.7 L844.5 729.9 L846.5 730.1 L848.5 730.2 L850.4 730.4 L852.3 730.5 L854.2 730.7 L856.1 730.8 L857.9 731.0 L859.7 731.1 L861.5 731.3 L863.2 731.4 L864.8 731.6 L866.4 731.7 L867.9 731.9 L869.3 732.0 L870.7 732.1 L872.1 732.3 L873.3 732.4 L874.6 732.5 L875.8 732.6 L876.9 732.7 L878.0 732.8 L879.1 732.9 L880.2 733.0 L881.3 733.2 L882.3 733.3 L883.4 733.4 L884.4 733.6 L885.5 733.8 L886.8 734.0 L888.2 734.3 L889.7 734.5 L891.3 734.8 L892.7 735.0 L894.2 735.3 L895.4 735.6 L896.5 735.9 L897.4 736.3 L898.0 736.6 L898.2 737.0 L897.9 737.5 L897.1 738.0 L895.9 738.5 L894.6 739.0 L893.3 739.6 L892.4 740.2 L891.9 740.9 L892.1 741.8 L893.0 742.8 L894.0 743.9 L894.8 744.8 L895.0 745.7 L894.5 746.2 L893.6 746.7 L892.3 747.1 L890.8 747.5 L889.4 747.8 L888.2 748.2 L887.4 748.5 L887.1 748.9 L887.3 749.2 L887.8 749.5 L888.5 749.8 L889.5 750.2 L890.6 750.5 L891.9 750.8 L893.3 751.1 L894.7 751.4 L896.2 751.7 L897.6 752.0 L899.0 752.3 L900.3 752.6 L901.4 752.9 L902.6 753.2 L903.7 753.6 L904.8 753.9 L905.9 754.2 L907.0 754.5 L908.0 754.9 L909.1 755.2 L910.2 755.5 L911.4 755.8 L912.6 756.1 L913.6 756.4 L914.7 756.6 L915.8 756.9 L916.8 757.1 L917.9 757.4 L919.0 757.7 L920.2 757.9 L921.3 758.1 L922.4 758.4 L923.6 758.6 L924.8 758.8 L926.0 759.0 L927.3 759.2 L928.5 759.3 L929.6 759.4 L930.7 759.5 L931.8 759.5 L933.0 759.6 L934.1 759.6 L935.3 759.6 L936.5 759.7 L937.7 759.7 L938.9 759.6 L940.1 759.6 L941.4 759.6 L942.6 759.6 L943.8 759.6 L945.1 759.6 L946.3 759.5 L947.5 759.5 L948.8 759.5 L950.0 759.5 L951.2 759.6 L952.4 759.6 L953.6 759.6 L954.8 759.7 L956.0 759.7 L957.2 759.8 L958.4 759.8 L959.6 759.9 L960.8 760.0 L962.0 760.0 L963.2 760.1 L964.4 760.2 L965.5 760.2 L966.7 760.3 L967.9 760.4 L969.1 760.5 L970.3 760.5 L971.5 760.6 L972.7 760.7 L973.9 760.8 L975.1 760.8 L976.3 760.9 L977.5 761.0 L978.7 761.0 L979.9 761.1 L981.1 761.2 L982.3 761.3 L983.6 761.4 L984.8 761.4 L986.0 761.5 L987.2 761.6 L988.4 761.7 L989.6 761.8 L990.8 761.8 L992.0 761.9 L993.2 762.0 L994.4 762.1 L995.6 762.1 L996.8 762.2 L997.9 762.3 L999.1 762.3 L1000.2 762.4 L1001.5 762.5 L1002.9 762.5 L1004.5 762.5 L1006.0 762.6 L1007.6 762.6 L1009.2 762.6 L1010.7 762.6 L1012.2 762.6 L1013.7 762.6 L1015.0 762.7 L1016.2 762.7 L1017.2 762.8 L1018.1 762.8 L1018.7 762.9 L1019.1 763.1 L1019.3 763.2 L1019.2 763.4 L1018.8 763.6 L1018.1 763.9 L1017.2 764.2 L1016.1 764.5 L1014.9 764.8 L1013.6 765.1 L1012.2 765.4 L1010.7 765.8 L1009.1 766.1 L1007.6 766.4 L1006.1 766.7 L1004.7 767.0 L1003.4 767.2 L1002.4 767.4 L1001.3 767.5 L1000.3 767.7 L999.2 767.8 L998.1 768.0 L996.9 768.1 L995.8 768.2 L994.7 768.3 L993.5 768.5 L992.4 768.6 L991.2 768.7 L990.0 768.8 L988.8 768.9 L987.7 769.0 L986.5 769.1 L985.3 769.1 L984.1 769.2 L983.0 769.3 L981.8 769.4 L980.6 769.5 L979.5 769.6 L978.3 769.7 L977.1 769.8 L975.9 769.9 L974.7 770.0 L973.5 770.1 L972.3 770.1 L971.1 770.2 L969.9 770.3 L968.7 770.4 L967.6 770.4 L966.4 770.5 L965.2 770.6 L964.0 770.7 L962.8 770.7 L961.6 770.8 L960.4 770.9 L959.2 771.0 L958.0 771.0 L956.8 771.1 L955.6 771.2 L954.4 771.3 L953.2 771.4 L952.0 771.4 L950.8 771.5 L949.6 771.6 L948.4 771.7 L947.2 771.7 L946.0 771.8 L944.8 771.9 L943.6 772.0 L942.5 772.0 L941.3 772.1 L940.1 772.2 L938.9 772.3 L937.7 772.3 L936.5 772.4 L935.3 772.5 L934.1 772.6 L932.9 772.7 L931.7 772.8 L930.6 772.9 L929.4 773.0 L928.2 773.1 L927.1 773.2 L925.9 773.3 L924.7 773.3 L923.5 773.4 L922.4 773.5 L921.2 773.6 L920.0 773.7 L918.8 773.8 L917.7 773.9 L916.5 774.1 L915.4 774.2 L914.3 774.3 L913.1 774.4 L912.0 774.6 L910.9 774.7 L909.9 774.9 L908.8 775.0 L907.8 775.2 L906.6 775.4 L905.3 775.7 L904.1 776.0 L902.9 776.2 L901.8 776.5 L900.6 776.9 L899.5 777.2 L898.3 777.5 L897.2 777.8 L896.1 778.1 L895.1 778.4 L894.0 778.7 L892.9 778.9 L891.9 779.2 L890.7 779.5 L889.6 779.8 L888.5 780.0 L887.5 780.3 L886.4 780.5 L885.3 780.8 L884.3 781.0 L883.1 781.2 L882.0 781.4 L880.7 781.6 L879.7 781.7 L878.7 781.8 L877.7 781.9 L876.7 782.0 L875.6 782.1 L874.5 782.2 L873.4 782.3 L872.3 782.3 L871.2 782.4 L870.0 782.4 L868.8 782.5 L867.6 782.6 L866.4 782.6 L865.2 782.7 L863.9 782.8 L862.6 782.9 L861.3 783.1 L860.0 783.2 L858.6 783.4 L857.1 783.6 L855.6 783.8 L854.0 784.0 L852.4 784.2 L850.7 784.5 L849.1 784.7 L847.4 785.0 L845.6 785.3 L843.9 785.5 L842.1 785.8 L840.4 786.1 L838.6 786.4 L836.8 786.7 L835.1 787.0 L833.3 787.3 L831.6 787.5 L829.8 787.8 L828.1 788.1 L826.4 788.4 L824.8 788.6 L823.1 788.9 L821.5 789.1 L820.0 789.3 L818.7 789.5 L817.5 789.6 L816.2 789.8 L815.0 790.0 L813.7 790.1 L812.5 790.2 L811.3 790.4 L810.1 790.5 L808.9 790.7 L807.7 790.8 L806.5 790.9 L805.3 791.1 L804.1 791.2 L803.0 791.3 L801.8 791.5 L800.7 791.6 L799.5 791.7 L798.4 791.8 L797.3 792.0 L796.2 792.1 L795.1 792.3 L794.0 792.4 L792.9 792.5 L791.8 792.7 L790.6 792.9 L789.4 793.1 L788.2 793.2 L787.1 793.4 L786.0 793.6 L784.8 793.8 L783.7 794.0 L782.6 794.2 L781.5 794.4 L780.5 794.6 L779.4 794.8 L778.3 794.9 L777.2 795.1 L776.1 795.3 L775.0 795.5 L773.9 795.7 L772.7 795.8 L771.6 796.0 L770.5 796.2 L769.3 796.3 L768.2 796.5 L767.1 796.6 L765.9 796.8 L764.8 796.9 L763.6 797.1 L762.5 797.2 L761.3 797.4 L760.2 797.5 L759.0 797.7 L757.9 797.8 L756.7 797.9 L755.5 798.1 L754.4 798.2 L753.2 798.3 L752.0 798.4 L750.8 798.5 L749.6 798.6 L748.5 798.7 L747.4 798.7 L746.2 798.8 L745.1 798.9 L744.0 798.9 L742.8 799.0 L741.7 799.0 L740.5 799.0 L739.3 799.1 L738.2 799.1 L737.0 799.1 L735.8 799.1 L734.7 799.2 L733.5 799.2 L732.3 799.2 L731.2 799.2 L730.0 799.3 L728.9 799.3 L727.7 799.3 L726.6 799.3 L725.4 799.4 L724.3 799.4 L723.1 799.4 L721.9 799.5 L720.7 799.5 L719.5 799.6 L718.3 799.6 L717.1 799.6 L715.9 799.7 L714.7 799.7 L713.5 799.7 L712.3 799.8 L711.1 799.8 L710.0 799.9 L708.8 799.9 L707.6 799.9 L706.5 800.0 L705.3 800.0 L704.1 800.1 L703.0 800.1 L701.8 800.2 L700.7 800.2 L699.5 800.2 L698.2 800.3 L697.0 800.4 L695.8 800.4 L694.6 800.5 L693.4 800.5 L692.2 800.6 L691.0 800.6 L689.9 800.7 L688.7 800.7 L687.5 800.8 L686.3 800.8 L685.2 800.9 L684.0 800.9 L682.8 801.0 L681.7 801.0 L680.5 801.1 L679.3 801.1 L678.1 801.2 L676.9 801.2 L675.8 801.3 L674.6 801.3 L673.4 801.4 L672.2 801.4 L671.0 801.4 L669.9 801.5 L668.7 801.5 L667.5 801.6 L666.4 801.6 L665.3 801.7 L664.1 801.7 L663.0 801.8 L661.9 801.9 L660.6 802.0 L659.2 802.1 L657.7 802.2 L656.1 802.4 L654.6 802.5 L653.0 802.6 L651.6 802.8 L650.3 802.9 L649.1 803.1 L648.1 803.2 L647.3 803.3 L646.9 803.5 L646.7 803.6 L646.8 803.7 L647.1 803.8 L647.6 803.8 L648.2 803.9 L649.0 804.0 L649.9 804.1 L651.0 804.1 L652.1 804.2 L653.4 804.3 L654.7 804.3 L656.2 804.4 L657.6 804.5 L659.1 804.5 L660.7 804.6 L662.2 804.7 L663.8 804.7 L665.4 804.8 L666.9 804.9 L668.4 805.0 L669.8 805.0 L671.2 805.1 L672.5 805.2 L673.7 805.3 L674.9 805.4 L676.0 805.5 L677.2 805.6 L678.4 805.7 L679.6 805.8 L680.8 806.0 L681.9 806.1 L683.1 806.2 L684.3 806.3 L685.5 806.5 L686.6 806.6 L687.8 806.7 L689.0 806.8 L690.1 807.0 L691.3 807.1 L692.4 807.2 L693.5 807.3 L694.6 807.4 L695.8 807.5 L696.8 807.6 L697.9 807.7 L699.0 807.8 L700.3 807.9 L701.5 807.9 L702.8 807.9 L704.2 807.9 L705.5 807.8 L706.8 807.7 L708.0 807.7 L709.3 807.6 L710.5 807.6 L711.7 807.6 L712.9 807.7 L713.9 807.7 L715.0 807.9 L715.9 808.1 L716.8 808.3 L717.6 808.7 L718.5 809.3 L719.3 810.1 L720.0 810.9 L720.6 811.8 L721.1 812.8 L721.6 813.7 L722.2 814.6 L722.7 815.4 L723.4 816.3 L723.9 817.2 L724.5 818.0 L725.2 818.8 L726.0 819.6 L726.7 820.2 L727.5 820.9 L728.4 821.5 L729.4 822.1 L730.3 822.8 L731.4 823.4 L732.5 824.0 L733.7 824.5 L734.9 825.0 L736.2 825.5 L737.1 825.8 L738.0 826.0 L739.0 826.2 L740.0 826.4 L741.1 826.6 L742.2 826.8 L743.3 826.9 L744.5 827.0 L745.6 827.1 L746.8 827.2 L748.0 827.3 L749.3 827.4 L750.5 827.5 L751.7 827.5 L753.0 827.6 L754.2 827.7 L755.4 827.7 L756.7 827.8 L757.9 827.9 L759.1 827.9 L760.3 828.0 L761.5 828.1 L762.7 828.2 L764.0 828.3 L765.4 828.3 L766.8 828.4 L768.3 828.4 L769.8 828.5 L771.3 828.5 L772.9 828.5 L774.4 828.6 L775.9 828.6 L777.4 828.6 L778.9 828.7 L780.3 828.7 L781.6 828.7 L782.9 828.8 L784.0 828.9 L785.1 829.0 L786.0 829.1 L786.8 829.2 L787.5 829.3 L788.0 829.4 L788.3 829.6 L788.4 829.8 L788.3 830.1 L787.8 830.5 L787.1 830.9 L786.1 831.4 L784.9 831.8 L783.6 832.3 L782.3 832.7 L780.9 833.2 L779.6 833.6 L778.3 834.0 L777.4 834.3 L776.4 834.5 L775.4 834.8 L774.3 835.0 L773.3 835.3 L772.2 835.5 L771.0 835.7 L769.9 836.0 L768.8 836.2 L767.6 836.4 L766.4 836.6 L765.2 836.8 L764.0 837.0 L762.8 837.3 L761.6 837.5 L760.5 837.7 L759.3 838.0 L758.1 838.2 L757.0 838.4 L755.9 838.7 L754.8 838.9 L753.7 839.2 L752.6 839.4 L751.5 839.7 L750.4 840.0 L749.3 840.3 L748.1 840.5 L747.0 840.8 L745.9 841.1 L744.7 841.3 L743.6 841.6 L742.5 841.8 L741.3 842.1 L740.2 842.3 L739.0 842.5 L737.9 842.7 L736.8 842.9 L735.6 843.1 L734.5 843.3 L733.3 843.5 L732.1 843.6 L731.0 843.7 L729.8 843.9 L728.6 844.0 L727.4 844.1 L726.3 844.1 L725.1 844.2 L723.9 844.3 L722.7 844.4 L721.5 844.4 L720.4 844.5 L719.2 844.5 L718.0 844.6 L716.8 844.7 L715.6 844.7 L714.4 844.8 L713.3 844.8 L712.1 844.9 L710.9 845.0 L709.7 845.1 L708.5 845.2 L707.3 845.2 L706.1 845.3 L704.9 845.4 L703.7 845.5 L702.5 845.6 L701.3 845.6 L700.1 845.7 L698.9 845.8 L697.7 845.9 L696.5 845.9 L695.4 846.0 L694.2 846.1 L693.0 846.2 L691.8 846.3 L690.7 846.3 L689.5 846.4 L688.3 846.5 L687.2 846.6 L685.9 846.7 L684.5 846.8 L683.0 846.8 L681.5 846.9 L679.9 847.0 L678.3 847.1 L676.8 847.1 L675.3 847.2 L673.8 847.3 L672.4 847.4 L671.1 847.5 L670.0 847.6 L669.0 847.7 L668.2 847.8 L667.5 847.9 L667.1 848.1 L667.0 848.3 L667.2 848.5 L667.7 848.7 L668.6 848.9 L669.7 849.2 L671.0 849.4 L672.4 849.6 L673.9 849.9 L675.5 850.2 L677.0 850.5 L678.4 850.8 L679.7 851.2 L680.8 851.6 L681.7 852.0 L682.2 852.5 L682.5 853.5 L682.2 854.6 L682.0 855.8 L682.2 856.8 L682.7 857.3 L683.6 857.8 L684.7 858.3 L686.0 858.8 L687.4 859.2 L688.9 859.7 L690.5 860.1 L692.0 860.5 L693.4 860.9 L694.7 861.2 L695.8 861.6 L696.7 862.0 L697.2 862.3 L697.4 862.7 L697.2 863.0 L696.8 863.4 L696.2 863.7 L695.4 864.0 L694.3 864.4 L693.2 864.7 L691.9 865.0 L690.5 865.3 L689.1 865.5 L687.6 865.8 L686.1 866.1 L684.6 866.3 L683.2 866.5 L681.8 866.7 L680.5 866.9 L679.4 867.0 L678.3 867.2 L677.2 867.3 L676.0 867.3 L674.8 867.4 L673.6 867.5 L672.4 867.5 L671.2 867.5 L669.9 867.5 L668.7 867.6 L667.5 867.6 L666.3 867.6 L665.0 867.6 L663.8 867.6 L662.6 867.6 L661.4 867.6 L660.3 867.6 L659.1 867.6 L658.0 867.7 L656.9 867.7 L655.7 867.8 L654.6 867.8 L653.5 867.8 L652.4 867.9 L651.4 867.9 L650.4 868.0 L649.3 868.0 L648.3 868.1 L647.3 868.1 L646.2 868.2 L645.1 868.2 L643.9 868.3 L642.7 868.4 L641.4 868.5 L640.0 868.6 L638.4 868.7 L636.8 868.9 L635.1 869.0 L633.3 869.2 L631.4 869.4 L629.5 869.5 L627.5 869.7 L625.5 869.9 L623.5 870.1 L621.4 870.4 L619.2 870.6 L617.1 870.8 L614.9 871.0 L612.6 871.3 L610.4 871.5 L608.1 871.8 L605.9 872.1 L603.6 872.3 L601.3 872.6 L599.0 872.9 L596.7 873.1 L594.5 873.4 L592.2 873.7 L590.0 874.0 L587.4 874.3 L584.8 874.7 L582.1 875.1 L579.3 875.5 L576.5 875.9 L573.6 876.3 L570.7 876.7 L567.8 877.2 L564.9 877.6 L562.0 878.1 L559.1 878.5 L556.2 879.0 L553.3 879.4 L550.4 879.9 L547.5 880.3 L544.7 880.8 L542.0 881.2 L539.3 881.7 L536.6 882.1 L534.1 882.5 L531.6 882.9 L529.2 883.2 L526.9 883.6 L524.7 883.9 L523.3 884.1 L522.0 884.3 L520.7 884.5 L519.4 884.7 L518.2 884.9 L516.9 885.1 L515.7 885.3 L514.6 885.5 L513.4 885.6 L512.3 885.8 L511.1 886.0 L510.0 886.1 L508.9 886.3 L507.9 886.5 L506.8 886.6 L505.7 886.8 L504.6 886.9 L503.6 887.1 L502.5 887.2 L501.4 887.4 L500.4 887.5 L499.3 887.6 L498.2 887.8 L497.1 887.9 L495.9 888.0 L494.7 888.2 L493.5 888.3 L492.3 888.4 L491.1 888.5 L489.9 888.6 L488.7 888.7 L487.6 888.7 L486.4 888.8 L485.2 888.9 L484.1 889.0 L482.9 889.1 L481.8 889.1 L480.6 889.2 L479.4 889.3 L478.3 889.4 L477.1 889.5 L475.9 889.6 L474.7 889.7 L473.5 889.8 L472.4 889.9 L471.2 890.0 L470.0 890.2 L468.9 890.3 L467.7 890.4 L466.5 890.5 L465.4 890.7 L464.2 890.8 L463.0 890.9 L461.8 891.1 L460.6 891.2 L459.4 891.4 L458.3 891.5 L457.1 891.7 L455.9 891.8 L454.8 891.9 L453.6 892.1 L452.4 892.2 L451.3 892.4 L450.1 892.5 L449.0 892.7 L447.9 892.8 L446.7 893.0 L445.6 893.1 L444.4 893.3 L443.2 893.4 L442.1 893.6 L441.0 893.7 L439.8 893.9 L438.7 894.1 L437.6 894.2 L436.5 894.4 L435.4 894.5 L434.3 894.7 L433.1 894.9 L432.0 895.0 L430.9 895.2 L429.7 895.3 L428.6 895.4 L427.5 895.6 L426.3 895.7 L425.1 895.8 L424.0 895.9 L422.8 896.0 L421.6 896.1 L420.5 896.2 L419.3 896.3 L418.1 896.4 L416.9 896.4 L415.7 896.5 L414.6 896.6 L413.4 896.7 L412.2 896.7 L411.0 896.8 L409.8 896.9 L408.6 897.0 L407.4 897.1 L406.2 897.3 L405.1 897.4 L403.9 897.5 L402.7 897.7 L401.6 897.9 L400.4 898.1 L399.3 898.3 L398.1 898.5 L397.0 898.7 L395.9 898.9 L394.7 899.2 L393.6 899.4 L392.4 899.7 L391.3 899.9 L390.1 900.2 L389.0 900.5 L387.9 900.7 L386.7 901.0 L385.6 901.2 L384.5 901.5 L383.4 901.7 L382.3 902.0 L381.2 902.2 L380.1 902.4 L379.0 902.6 L377.8 902.8 L376.6 903.0 L375.3 903.1 L374.1 903.3 L372.9 903.4 L371.6 903.5 L370.4 903.6 L369.2 903.7 L368.0 903.8 L366.8 904.0 L365.7 904.1 L364.5 904.3 L363.4 904.5 L362.4 904.7 L361.3 905.0 L360.3 905.3 L359.4 905.6 L358.3 906.1 L357.3 906.6 L356.3 907.2 L355.3 907.8 L354.4 908.4 L353.5 909.1 L352.7 909.7 L351.8 910.4 L351.0 911.1 L350.3 911.8 L349.5 912.5 L348.5 913.3 L347.5 914.2 L346.5 915.1 L345.5 916.0 L344.7 916.9 L344.0 917.8 L343.6 918.6 L343.6 919.4 L343.9 920.0 L344.4 920.7 L345.2 921.3 L346.2 921.8 L347.3 922.4 L348.5 922.9 L349.9 923.4 L351.3 923.9 L352.7 924.4 L354.1 924.8 L355.4 925.3 L356.3 925.6 L357.3 925.9 L358.3 926.2 L359.3 926.5 L360.4 926.8 L361.5 927.0 L362.6 927.3 L363.7 927.5 L364.9 927.8 L366.1 928.0 L367.2 928.2 L368.4 928.4 L369.6 928.6 L370.8 928.8 L372.0 929.0 L373.2 929.2 L374.4 929.4 L375.5 929.6 L376.7 929.8 L377.9 930.0 L379.0 930.2 L380.2 930.4 L381.4 930.6 L382.6 930.7 L383.8 930.9 L385.0 931.0 L386.2 931.2 L387.4 931.3 L388.6 931.4 L389.8 931.6 L391.0 931.7 L392.2 931.8 L393.4 931.9 L394.6 932.1 L395.8 932.2 L396.9 932.3 L398.1 932.5 L399.3 932.6 L400.4 932.8 L401.6 932.9 L402.7 933.1 L404.0 933.3 L405.3 933.5 L406.8 933.7 L408.2 933.9 L409.7 934.0 L411.3 934.2 L412.8 934.4 L414.2 934.6 L415.6 934.8 L417.0 935.0 L418.2 935.3 L419.3 935.5 L420.3 935.8 L421.1 936.1 L421.7 936.4 L422.1 936.7 L422.3 937.1 L422.1 937.6 L421.5 938.1 L420.5 938.7 L419.3 939.3 L417.9 939.9 L416.4 940.6 L414.9 941.2 L413.5 941.8 L412.3 942.4 L411.3 943.0 L410.7 943.5 L410.5 944.0 L410.7 944.4 L411.1 944.7 L411.7 945.0 L412.5 945.3 L413.4 945.6 L414.5 945.8 L415.7 946.1 L417.0 946.3 L418.4 946.5 L419.8 946.7 L421.3 946.9 L422.7 947.1 L424.2 947.3 L425.6 947.5 L426.9 947.7 L428.2 947.9 L429.3 948.1 L430.4 948.2 L431.5 948.4 L432.6 948.6 L433.8 948.7 L434.9 948.8 L436.1 949.0 L437.3 949.1 L438.5 949.2 L439.7 949.4 L440.9 949.5 L442.1 949.6 L443.3 949.7 L444.5 949.9 L445.7 950.0 L446.9 950.1 L448.1 950.2 L449.3 950.4 L450.4 950.5 L451.6 950.6 L452.7 950.8 L453.8 950.9 L455.0 951.1 L456.2 951.2 L457.4 951.4 L458.6 951.5 L459.8 951.7 L461.0 951.8 L462.1 952.0 L463.3 952.1 L464.4 952.3 L465.5 952.5 L466.7 952.6 L467.8 952.8 L468.9 953.0 L470.1 953.2 L471.2 953.4 L472.4 953.6 L473.5 953.8 L474.7 954.0 L475.9 954.2 L477.2 954.5 L478.5 954.7 L479.8 954.9 L481.1 955.1 L482.4 955.4 L483.7 955.6 L485.0 955.9 L486.3 956.1 L487.5 956.4 L488.6 956.7 L489.7 957.1 L490.7 957.4 L491.6 957.8 L492.5 958.2 L493.2 958.7 L494.1 959.6 L494.8 960.6 L495.2 961.6 L495.7 962.7 L496.3 963.7 L497.1 964.6 L498.0 965.2 L499.1 965.7 L500.3 966.1 L501.7 966.5 L503.1 966.9 L504.5 967.2 L505.8 967.6 L506.9 968.0 L507.9 968.4 L508.6 968.9 L508.9 969.5 L508.8 970.2 L508.2 971.0 L507.3 971.9 L506.1 972.7 L505.0 973.7 L504.0 974.6 L503.3 975.5 L503.0 976.4 L503.2 977.3 L503.8 978.1 L504.6 979.0 L505.6 980.0 L506.7 980.9 L507.6 981.8 L508.4 982.6 L508.9 983.5 L508.9 984.3 L508.7 984.8 L508.2 985.4 L507.6 985.9 L506.9 986.4 L506.0 986.9 L505.0 987.4 L503.9 987.8 L502.7 988.3 L501.5 988.7 L500.1 989.2 L498.8 989.6 L497.4 990.0 L496.0 990.5 L494.6 990.9 L493.2 991.3 L491.9 991.7 L490.6 992.1 L489.4 992.5 L488.3 992.8 L487.3 993.2 L486.1 993.6 L485.0 994.1 L483.8 994.5 L482.7 994.9 L481.5 995.3 L480.4 995.7 L479.3 996.0 L478.3 996.4 L477.3 996.7 L476.3 997.1 L475.3 997.4 L474.4 997.8 L473.5 998.1 L472.3 998.6 L471.3 999.0 L470.4 999.5 L469.5 999.9 L468.4 1000.4 L467.1 1000.8 L466.3 1001.0 L465.4 1001.3 L464.5 1001.5 L463.6 1001.8 L462.6 1002.0 L461.5 1002.3 L460.4 1002.5 L459.3 1002.8 L458.1 1003.0 L456.9 1003.3 L455.7 1003.5 L454.5 1003.7 L453.3 1004.0 L452.0 1004.2 L450.8 1004.4 L449.5 1004.7 L448.3 1004.9 L447.1 1005.1 L445.9 1005.3 L444.7 1005.5 L443.5 1005.7 L442.4 1005.9 L441.2 1006.0 L440.1 1006.2 L438.9 1006.4 L437.7 1006.5 L436.5 1006.6 L435.4 1006.8 L434.2 1006.9 L433.0 1007.0 L431.8 1007.1 L430.6 1007.3 L429.5 1007.4 L428.3 1007.5 L427.1 1007.6 L425.9 1007.7 L424.8 1007.8 L423.6 1008.0 L422.4 1008.1 L421.3 1008.2 L420.1 1008.4 L419.0 1008.5 L417.9 1008.7 L416.7 1008.9 L415.5 1009.0 L414.2 1009.2 L412.9 1009.3 L411.6 1009.5 L410.3 1009.6 L409.0 1009.8 L407.7 1009.9 L406.5 1010.1 L405.2 1010.2 L404.0 1010.4 L402.8 1010.6 L401.7 1010.8 L400.6 1011.0 L399.6 1011.3 L398.7 1011.6 L397.8 1011.9 L397.0 1012.2 L396.3 1012.6 L395.2 1013.3 L394.2 1014.1 L393.3 1015.0 L392.7 1015.9 L392.3 1016.8 L392.3 1017.6 L392.6 1018.2 L393.1 1018.7 L393.8 1019.2 L394.6 1019.8 L395.7 1020.3 L396.8 1020.8 L398.0 1021.3 L399.3 1021.8 L400.6 1022.2 L401.8 1022.7 L403.1 1023.1 L404.2 1023.5 L405.3 1023.9 L406.6 1024.2 L408.0 1024.6 L409.4 1024.9 L410.9 1025.2 L412.4 1025.5 L413.9 1025.8 L415.3 1026.0 L416.5 1026.3 L417.7 1026.5 L418.6 1026.8 L419.3 1027.0 L419.8 1027.2 L419.9 1027.4 L419.7 1027.6 L419.2 1027.7 L418.5 1027.7 L417.5 1027.8 L416.3 1027.8 L415.0 1027.8 L413.6 1027.9 L412.1 1027.9 L410.6 1027.9 L409.1 1028.0 L407.7 1028.1 L406.4 1028.3 L405.2 1028.5 L404.2 1028.8 L403.2 1029.2 L402.2 1029.7 L401.3 1030.3 L400.5 1030.9 L399.7 1031.6 L398.9 1032.3 L398.1 1032.9 L397.2 1033.6 L396.3 1034.3 L395.4 1034.9 L394.5 1035.6 L393.6 1036.2 L392.6 1036.9 L391.7 1037.6 L390.7 1038.3 L389.7 1039.0 L388.7 1039.7 L387.7 1040.4 L386.6 1041.0 L385.6 1041.6 L384.5 1042.2 L383.5 1042.7 L382.6 1043.1 L381.6 1043.6 L380.6 1044.0 L379.6 1044.4 L378.5 1044.8 L377.5 1045.2 L376.4 1045.6 L375.4 1045.9 L374.3 1046.3 L373.2 1046.7 L372.1 1047.0 L371.0 1047.4 L369.8 1047.7 L368.7 1048.1 L367.6 1048.4 L366.6 1048.8 L365.5 1049.1 L364.4 1049.4 L363.3 1049.8 L362.1 1050.1 L361.0 1050.4 L359.8 1050.7 L358.7 1051.1 L357.5 1051.4 L356.3 1051.7 L355.2 1052.0 L354.0 1052.3 L352.8 1052.6 L351.7 1052.9 L350.5 1053.2 L349.4 1053.5 L348.2 1053.7 L347.1 1054.0 L345.9 1054.3 L344.7 1054.5 L343.5 1054.7 L342.3 1054.9 L341.0 1055.1 L339.8 1055.3 L338.6 1055.5 L337.3 1055.7 L336.1 1055.9 L334.9 1056.1 L333.8 1056.3 L332.6 1056.5 L331.5 1056.7 L330.4 1057.0 L329.4 1057.2 L328.4 1057.6 L327.4 1057.9 L326.3 1058.4 L325.2 1059.0 L324.2 1059.6 L323.3 1060.3 L322.4 1060.9 L321.5 1061.6 L320.6 1062.2 L319.7 1062.8 L318.7 1063.4 L317.6 1063.8 L316.5 1064.1 L315.3 1064.4 L313.9 1064.6 L312.5 1064.8 L311.0 1064.9 L309.5 1065.0 L308.0 1065.1 L306.6 1065.2 L305.3 1065.3 L304.1 1065.4 L303.2 1065.4 L302.4 1065.5 L302.0 1065.7 L301.8 1065.8 L301.9 1065.9 L302.3 1066.1 L302.8 1066.2 L303.5 1066.3 L304.4 1066.4 L305.5 1066.6 L306.6 1066.7 L307.9 1066.8 L309.3 1067.0 L310.7 1067.1 L312.2 1067.2 L313.7 1067.4 L315.2 1067.5 L316.7 1067.7 L318.2 1067.9 L319.6 1068.1 L321.0 1068.3 L322.3 1068.5 L323.5 1068.7 L324.6 1068.9 L325.8 1069.2 L326.9 1069.5 L328.0 1069.8 L329.2 1070.1 L330.3 1070.4 L331.4 1070.7 L332.6 1071.1 L333.7 1071.4 L334.8 1071.8 L335.9 1072.1 L337.1 1072.4 L338.2 1072.8 L339.3 1073.1 L340.5 1073.4 L341.6 1073.7 L342.8 1074.0 L343.9 1074.3 L345.1 1074.6 L346.2 1074.8 L347.4 1075.1 L348.5 1075.3 L349.7 1075.6 L350.8 1075.8 L352.0 1076.0 L353.2 1076.2 L354.3 1076.4 L355.5 1076.6 L356.6 1076.8 L357.8 1077.0 L359.0 1077.2 L360.2 1077.4 L361.4 1077.6 L362.6 1077.7 L363.8 1077.9 L365.0 1078.1 L366.2 1078.3 L367.5 1078.4 L368.7 1078.6 L369.9 1078.8 L371.0 1078.9 L372.2 1079.0 L373.4 1079.2 L374.6 1079.3 L375.8 1079.4 L377.1 1079.6 L378.3 1079.7 L379.5 1079.8 L380.7 1079.9 L382.0 1080.0 L383.2 1080.1 L384.5 1080.3 L385.7 1080.4 L387.0 1080.5 L388.2 1080.6 L389.5 1080.7 L390.7 1080.8 L392.0 1080.9 L393.2 1081.0 L394.5 1081.1 L395.7 1081.3 L397.0 1081.4 L398.2 1081.5 L399.4 1081.6 L400.7 1081.7 L401.9 1081.9 L403.1 1082.0 L404.3 1082.1 L405.6 1082.2 L406.8 1082.4 L408.0 1082.5 L409.2 1082.6 L410.4 1082.8 L411.7 1082.9 L412.9 1083.0 L414.1 1083.1 L415.3 1083.3 L416.6 1083.4 L417.8 1083.5 L419.0 1083.6 L420.3 1083.8 L421.5 1083.9 L422.8 1084.0 L424.0 1084.1 L425.3 1084.3 L426.5 1084.4 L427.8 1084.5 L429.2 1084.6 L430.5 1084.8 L431.9 1084.9 L433.3 1085.0 L434.7 1085.2 L436.1 1085.3 L437.5 1085.4 L438.9 1085.6 L440.4 1085.7 L441.8 1085.8 L443.2 1086.0 L444.6 1086.1 L446.1 1086.2 L447.5 1086.3 L448.9 1086.5 L450.3 1086.6 L451.7 1086.7 L453.1 1086.8 L454.5 1086.9 L455.9 1087.0 L457.2 1087.1 L458.6 1087.2 L459.9 1087.3 L461.2 1087.4 L462.4 1087.5 L463.6 1087.5 L464.7 1087.6 L465.8 1087.6 L466.9 1087.7 L468.0 1087.7 L469.0 1087.7 L470.0 1087.8 L471.1 1087.8 L472.1 1087.8 L473.1 1087.8 L474.2 1087.8 L475.3 1087.9 L476.4 1087.9 L477.5 1087.9 L478.7 1088.0 L479.9 1088.0 L481.2 1088.1 L482.5 1088.1 L483.8 1088.2 L485.3 1088.3 L486.8 1088.4 L489.8 1088.6 L493.1 1088.9 L496.6 1089.2 L500.3 1089.5 L504.2 1089.9 L508.4 1090.3 L512.6 1090.7 L517.1 1091.1 L521.6 1091.6 L526.2 1092.1 L530.9 1092.6 L535.7 1093.1 L540.5 1093.6 L545.4 1094.1 L550.2 1094.6 L555.0 1095.1 L559.7 1095.6 L564.4 1096.1 L569.0 1096.6 L573.5 1097.1 L577.9 1097.6 L582.1 1098.0 L586.1 1098.4 L590.0 1098.8 L592.9 1099.1 L595.7 1099.4 L598.6 1099.6 L601.4 1099.9 L604.1 1100.1 L606.9 1100.4 L609.6 1100.6 L612.3 1100.9 L614.9 1101.1 L617.6 1101.3 L620.2 1101.6 L622.7 1101.8 L625.3 1102.0 L627.8 1102.3 L630.3 1102.5 L632.8 1102.8 L635.3 1103.0 L637.7 1103.3 L640.1 1103.5 L642.5 1103.8 L644.9 1104.1 L647.2 1104.4 L649.6 1104.7 L651.9 1105.0 L653.8 1105.3 L655.6 1105.5 L657.4 1105.8 L659.2 1106.1 L660.9 1106.4 L662.6 1106.7 L664.3 1107.0 L666.0 1107.3 L667.6 1107.6 L669.2 1107.9 L670.9 1108.3 L672.5 1108.6 L674.1 1108.9 L675.8 1109.2 L677.4 1109.5 L679.1 1109.9 L680.7 1110.2 L682.4 1110.5 L684.1 1110.8 L685.8 1111.1 L687.6 1111.5 L689.4 1111.8 L691.2 1112.1 L693.1 1112.4 L695.5 1112.8 L697.9 1113.2 L700.4 1113.5 L703.0 1113.9 L705.6 1114.3 L708.2 1114.7 L710.9 1115.0 L713.7 1115.4 L716.4 1115.8 L719.2 1116.2 L722.0 1116.5 L724.7 1116.9 L727.5 1117.3 L730.2 1117.6 L733.0 1118.0 L735.6 1118.4 L738.3 1118.8 L740.9 1119.1 L743.4 1119.5 L745.9 1119.9 L748.3 1120.3 L750.6 1120.6 L752.9 1121.0 L755.0 1121.4 L756.4 1121.7 L757.8 1121.9 L759.2 1122.1 L760.5 1122.4 L761.8 1122.6 L763.1 1122.8 L764.3 1123.1 L765.5 1123.3 L766.7 1123.5 L767.9 1123.7 L769.1 1124.0 L770.3 1124.2 L771.4 1124.4 L772.6 1124.7 L773.7 1124.9 L774.8 1125.2 L775.9 1125.4 L777.1 1125.7 L778.2 1126.0 L779.3 1126.3 L780.4 1126.6 L781.5 1126.9 L782.7 1127.2 L783.8 1127.6 L785.0 1128.0 L786.2 1128.4 L787.5 1128.8 L788.9 1129.2 L790.3 1129.7 L791.7 1130.2 L793.2 1130.6 L794.6 1131.1 L796.1 1131.6 L797.5 1132.2 L798.9 1132.7 L800.2 1133.2 L801.5 1133.7 L802.7 1134.2 L803.9 1134.7 L804.9 1135.2 L805.8 1135.6 L806.7 1136.1 L807.4 1136.5 L807.9 1136.9 L808.3 1137.3 L808.5 1137.7 L808.6 1138.0 L808.4 1138.3 L808.1 1138.6 L807.5 1138.9 L806.8 1139.1 L805.9 1139.3 L804.8 1139.5 L803.7 1139.7 L802.4 1139.8 L801.1 1140.0 L799.6 1140.2 L798.2 1140.3 L796.7 1140.5 L795.1 1140.7 L793.6 1140.9 L792.1 1141.1 L790.7 1141.4 L789.3 1141.7 L788.0 1142.0 L786.8 1142.4 L785.5 1142.8 L784.2 1143.2 L783.0 1143.6 L781.7 1144.1 L780.4 1144.6 L779.0 1145.2 L777.7 1145.7 L776.3 1146.3 L775.0 1146.8 L773.6 1147.4 L772.2 1148.0 L770.8 1148.6 L769.4 1149.1 L768.0 1149.7 L766.6 1150.3 L765.2 1150.9 L763.7 1151.4 L762.3 1152.0 L760.8 1152.5 L759.4 1153.0 L757.9 1153.5 L756.5 1154.0 L755.0 1154.4 L753.4 1154.9 L751.8 1155.3 L750.2 1155.7 L748.5 1156.1 L746.9 1156.5 L745.3 1156.9 L743.6 1157.3 L742.0 1157.6 L740.3 1158.0 L738.6 1158.3 L736.9 1158.7 L735.2 1159.0 L733.5 1159.3 L731.8 1159.7 L730.1 1160.0 L728.3 1160.3 L726.5 1160.6 L724.8 1160.9 L723.0 1161.2 L721.1 1161.5 L719.3 1161.8 L717.5 1162.1 L715.6 1162.4 L713.7 1162.7 L711.4 1163.1 L709.0 1163.4 L706.5 1163.8 L704.1 1164.1 L701.6 1164.5 L699.0 1164.8 L696.4 1165.2 L693.8 1165.5 L691.2 1165.8 L688.6 1166.2 L685.9 1166.5 L683.3 1166.8 L680.6 1167.1 L677.9 1167.4 L675.2 1167.7 L672.6 1168.0 L669.9 1168.3 L667.3 1168.5 L664.6 1168.8 L662.0 1169.1 L659.5 1169.3 L656.9 1169.6 L654.4 1169.9 L651.9 1170.1 L649.6 1170.3 L647.3 1170.5 L645.0 1170.7 L642.7 1170.9 L640.4 1171.1 L638.1 1171.3 L635.7 1171.5 L633.4 1171.6 L631.1 1171.8 L628.8 1172.0 L626.5 1172.1 L624.2 1172.3 L621.9 1172.4 L619.7 1172.6 L617.5 1172.7 L615.4 1172.9 L613.3 1173.0 L611.2 1173.2 L609.2 1173.3 L607.2 1173.5 L605.3 1173.6 L603.5 1173.8 L601.7 1173.9 L600.0 1174.1 L598.6 1174.2 L597.3 1174.4 L596.1 1174.5 L594.8 1174.6 L593.7 1174.8 L592.5 1174.9 L591.4 1175.1 L590.3 1175.2 L589.3 1175.3 L588.2 1175.5 L587.1 1175.6 L586.1 1175.7 L585.1 1175.9 L584.0 1176.0 L582.9 1176.2 L581.8 1176.3 L580.7 1176.5 L579.6 1176.6 L578.5 1176.7 L577.3 1176.9 L576.2 1177.0 L575.0 1177.2 L573.9 1177.4 L572.7 1177.5 L571.6 1177.7 L570.4 1177.8 L569.3 1178.0 L568.1 1178.1 L567.0 1178.3 L565.8 1178.5 L564.6 1178.6 L563.5 1178.8 L562.3 1179.0 L561.2 1179.1 L560.0 1179.3 L558.9 1179.4 L557.7 1179.6 L556.5 1179.8 L555.3 1179.9 L554.1 1180.1 L552.9 1180.2 L551.6 1180.4 L550.4 1180.5 L549.1 1180.7 L547.9 1180.8 L546.6 1181.0 L545.4 1181.1 L544.2 1181.3 L543.0 1181.5 L541.8 1181.6 L540.7 1181.8 L539.6 1182.0 L538.6 1182.1 L537.6 1182.3 L536.7 1182.5 L535.8 1182.7 L534.5 1183.0 L533.2 1183.2 L532.1 1183.4 L531.0 1183.7 L530.0 1184.0 L529.2 1184.5 L528.5 1185.1 L528.0 1186.0 L527.8 1187.1 L527.8 1188.3 L527.7 1189.6 L527.6 1190.8 L527.3 1191.8 L526.8 1192.7 L526.2 1193.5 L525.4 1194.2 L524.6 1194.8 L523.6 1195.5 L522.8 1195.9 L521.9 1196.4 L520.9 1196.8 L519.9 1197.2 L518.8 1197.5 L517.6 1197.9 L516.4 1198.2 L515.2 1198.6 L513.9 1198.9 L512.7 1199.2 L511.4 1199.4 L510.2 1199.7 L509.1 1199.9 L507.9 1200.0 L506.7 1200.1 L505.4 1200.1 L504.1 1200.1 L502.8 1200.1 L501.5 1200.1 L500.1 1200.1 L498.8 1200.2 L497.6 1200.2 L496.4 1200.3 L495.3 1200.4 L494.3 1200.6 L493.4 1200.8 L492.6 1201.1 L491.9 1201.5 L491.0 1202.3 L490.4 1203.3 L489.8 1204.4 L489.5 1205.6 L489.4 1206.6 L489.5 1207.6 L489.8 1208.4 L490.4 1209.2 L491.2 1210.0 L492.2 1210.7 L493.2 1211.3 L494.4 1211.9 L495.2 1212.2 L496.1 1212.5 L497.0 1212.7 L498.0 1212.9 L499.1 1213.1 L500.2 1213.3 L501.4 1213.4 L502.5 1213.5 L503.8 1213.6 L505.0 1213.7 L506.3 1213.8 L507.6 1213.9 L508.8 1213.9 L510.1 1214.1 L511.4 1214.2 L512.6 1214.3 L513.7 1214.4 L514.8 1214.5 L515.9 1214.7 L517.1 1214.8 L518.2 1214.9 L519.4 1215.0 L520.5 1215.1 L521.7 1215.2 L522.9 1215.4 L524.1 1215.5 L525.3 1215.6 L526.5 1215.7 L527.7 1215.8 L528.9 1215.9 L530.1 1216.0 L531.3 1216.2 L532.4 1216.3 L533.6 1216.4 L534.7 1216.5 L535.9 1216.7 L537.0 1216.8 L538.2 1216.9 L539.4 1217.1 L540.7 1217.2 L541.9 1217.4 L543.1 1217.5 L544.4 1217.6 L545.6 1217.8 L546.8 1217.9 L548.1 1218.1 L549.2 1218.2 L550.4 1218.4 L551.6 1218.5 L552.7 1218.7 L553.8 1218.9 L554.8 1219.1 L555.8 1219.3 L556.8 1219.6 L557.7 1219.8 L559.1 1220.2 L560.5 1220.6 L561.9 1221.0 L563.3 1221.5 L564.4 1222.0 L565.4 1222.5 L566.0 1223.0 L566.2 1223.5 L566.1 1224.0 L565.6 1224.4 L565.0 1224.9 L564.1 1225.5 L563.0 1226.0 L561.8 1226.5 L560.6 1227.0 L559.2 1227.6 L557.9 1228.1 L556.6 1228.5 L555.3 1229.0 L554.4 1229.3 L553.4 1229.6 L552.4 1229.9 L551.3 1230.3 L550.2 1230.5 L549.1 1230.8 L547.9 1231.1 L546.8 1231.4 L545.6 1231.7 L544.4 1231.9 L543.1 1232.2 L541.9 1232.4 L540.7 1232.7 L539.4 1232.9 L538.2 1233.2 L536.9 1233.4 L535.7 1233.6 L534.5 1233.8 L533.3 1234.0 L532.1 1234.2 L530.9 1234.4 L529.7 1234.6 L528.6 1234.7 L527.4 1234.9 L526.3 1235.0 L525.1 1235.2 L523.9 1235.3 L522.8 1235.4 L521.6 1235.5 L520.4 1235.6 L519.3 1235.7 L518.1 1235.8 L517.0 1235.9 L515.8 1236.0 L514.6 1236.0 L513.5 1236.1 L512.3 1236.2 L511.1 1236.4 L510.0 1236.5 L508.8 1236.6 L507.7 1236.7 L506.5 1236.9 L505.3 1237.1 L504.2 1237.2 L503.0 1237.4 L501.8 1237.6 L500.7 1237.8 L499.5 1237.9 L498.3 1238.1 L497.2 1238.3 L496.0 1238.5 L494.8 1238.7 L493.7 1238.9 L492.5 1239.1 L491.4 1239.3 L490.2 1239.5 L489.0 1239.7 L487.9 1240.0 L486.7 1240.2 L485.6 1240.4 L484.5 1240.6 L483.3 1240.9 L482.2 1241.1 L481.1 1241.3 L479.9 1241.6 L478.8 1241.8 L477.7 1242.1 L476.5 1242.4 L475.4 1242.6 L474.3 1242.9 L473.2 1243.2 L472.1 1243.4 L471.0 1243.7 L469.8 1244.0 L468.7 1244.3 L467.6 1244.5 L466.5 1244.8 L465.4 1245.1 L464.3 1245.4 L463.3 1245.7 L462.2 1245.9 L461.1 1246.2 L460.0 1246.5 L458.9 1246.8 L457.7 1247.1 L456.6 1247.4 L455.5 1247.7 L454.4 1248.0 L453.2 1248.4 L452.1 1248.7 L451.0 1249.0 L449.9 1249.3 L448.8 1249.6 L447.7 1250.0 L446.6 1250.3 L445.5 1250.5 L444.4 1250.8 L443.3 1251.1 L442.2 1251.3 L441.1 1251.6 L440.0 1251.8 L438.8 1252.0 L437.6 1252.2 L436.5 1252.4 L435.3 1252.6 L434.2 1252.7 L433.0 1252.9 L431.8 1253.0 L430.7 1253.1 L429.5 1253.2 L428.4 1253.3 L427.2 1253.5 L426.0 1253.6 L424.8 1253.7 L423.6 1253.8 L422.4 1253.9 L421.2 1254.0 L420.1 1254.1 L418.9 1254.2 L417.8 1254.3 L416.6 1254.4 L415.4 1254.5 L414.2 1254.6 L413.1 1254.7 L411.9 1254.8 L410.7 1254.9 L409.5 1254.9 L408.3 1255.0 L407.1 1255.1 L405.9 1255.2 L404.7 1255.3 L403.5 1255.4 L402.3 1255.4 L401.1 1255.5 L399.9 1255.6 L398.7 1255.7 L397.5 1255.8 L396.3 1255.9 L395.1 1256.0 L393.8 1256.1 L392.6 1256.1 L391.4 1256.2 L390.1 1256.3 L388.9 1256.4 L387.6 1256.5 L386.4 1256.6 L385.2 1256.7 L384.0 1256.8 L382.8 1256.9 L381.6 1257.0 L380.5 1257.0 L379.4 1257.1 L378.3 1257.2 L377.2 1257.3 L376.2 1257.4 L374.9 1257.5 L373.7 1257.6 L372.6 1257.7 L371.4 1257.8 L370.3 1258.0 L369.2 1258.1 L368.2 1258.2 L367.1 1258.3 L366.1 1258.4 L365.0 1258.5 L363.9 1258.6 L362.7 1258.7 L361.4 1258.7 L360.0 1258.7 L358.6 1258.6 L357.3 1258.6 L356.0 1258.7 L354.9 1258.8 L353.9 1259.0 L353.1 1259.3 L352.6 1259.7 L352.4 1260.5 L352.6 1261.5 L353.1 1262.7 L353.5 1263.9 L353.8 1265.0 L353.7 1265.9 L353.2 1266.6 L352.5 1267.2 L351.6 1267.7 L350.5 1268.2 L349.4 1268.6 L348.2 1268.9 L347.0 1269.2 L346.0 1269.4 L344.8 1269.5 L343.5 1269.5 L342.0 1269.5 L340.5 1269.4 L339.0 1269.3 L337.6 1269.3 L336.2 1269.2 L335.0 1269.1 L333.9 1269.1 L333.1 1269.0 L332.6 1269.1 L332.4 1269.2 L332.6 1269.4 L333.1 1269.6 L333.9 1269.9 L335.0 1270.2 L336.3 1270.6 L337.7 1270.9 L339.2 1271.3 L340.7 1271.7 L342.1 1272.0 L343.5 1272.3 L344.7 1272.6 L345.8 1272.9 L346.9 1273.1 L348.0 1273.3 L349.0 1273.5 L350.1 1273.8 L351.2 1274.0 L352.3 1274.2 L353.4 1274.3 L354.6 1274.5 L355.8 1274.7 L357.1 1274.9 L358.1 1275.0 L359.1 1275.2 L360.2 1275.3 L361.3 1275.4 L362.4 1275.5 L363.6 1275.6 L364.8 1275.7 L365.9 1275.8 L367.2 1275.9 L368.4 1276.0 L369.6 1276.1 L370.9 1276.2 L372.1 1276.3 L373.4 1276.4 L374.6 1276.5 L375.9 1276.6 L377.1 1276.7 L378.3 1276.8 L379.5 1276.9 L380.7 1277.0 L381.9 1277.1 L383.1 1277.2 L384.3 1277.3 L385.6 1277.4 L386.9 1277.5 L388.2 1277.5 L389.5 1277.6 L390.7 1277.6 L392.0 1277.7 L393.3 1277.8 L394.6 1277.9 L395.8 1277.9 L397.1 1278.0 L398.3 1278.1 L399.4 1278.3 L400.6 1278.4 L401.7 1278.5 L402.7 1278.7 L403.7 1278.9 L404.6 1279.1 L405.5 1279.4 L406.8 1279.9 L408.2 1280.4 L409.5 1281.0 L410.8 1281.7 L411.8 1282.3 L412.7 1282.9 L413.2 1283.4 L413.3 1283.9 L413.1 1284.2 L412.6 1284.5 L411.9 1284.7 L410.9 1284.9 L409.8 1285.0 L408.6 1285.2 L407.2 1285.3 L405.8 1285.4 L404.3 1285.5 L402.8 1285.6 L401.4 1285.8 L400.0 1285.9 L398.7 1286.1 L397.6 1286.3 L396.5 1286.4 L395.3 1286.6 L394.2 1286.8 L393.0 1286.9 L391.7 1287.1 L390.5 1287.3 L389.2 1287.5 L388.0 1287.6 L386.7 1287.8 L385.4 1288.0 L384.2 1288.2 L383.0 1288.4 L381.8 1288.6 L380.6 1288.7 L379.4 1288.9 L378.3 1289.1 L377.2 1289.3 L376.2 1289.5 L374.9 1289.7 L373.7 1290.0 L372.6 1290.2 L371.4 1290.5 L370.3 1290.8 L369.2 1291.0 L368.2 1291.3 L367.1 1291.5 L366.1 1291.8 L365.0 1292.0 L363.9 1292.3 L362.7 1292.6 L361.3 1292.8 L359.8 1293.1 L358.3 1293.4 L356.8 1293.6 L355.5 1293.9 L354.4 1294.2 L353.4 1294.5 L352.8 1294.8 L352.6 1295.1 L352.9 1295.5 L353.8 1295.9 L355.1 1296.3 L356.5 1296.7 L358.0 1297.1 L359.2 1297.6 L360.1 1298.0 L360.5 1298.5 L360.2 1299.0 L359.5 1299.5 L358.4 1300.0 L357.1 1300.5 L355.6 1301.1 L354.0 1301.6 L352.5 1302.2 L351.2 1302.7 L350.1 1303.2 L349.4 1303.7 L349.2 1304.1 L349.4 1304.5 L349.9 1304.8 L350.7 1305.1 L351.7 1305.4 L352.9 1305.7 L354.3 1306.0 L355.7 1306.3 L357.2 1306.5 L358.7 1306.8 L360.1 1307.0 L361.5 1307.2 L362.7 1307.5 L363.9 1307.7 L365.2 1308.0 L366.6 1308.2 L368.1 1308.4 L369.6 1308.6 L371.1 1308.8 L372.5 1309.0 L373.8 1309.2 L375.0 1309.4 L376.0 1309.6 L376.7 1309.8 L377.2 1310.0 L377.4 1310.3 L377.2 1310.6 L376.7 1310.9 L375.8 1311.3 L374.7 1311.6 L373.4 1312.0 L372.0 1312.4 L370.5 1312.8 L369.0 1313.1 L367.6 1313.5 L366.2 1313.9 L365.0 1314.2 L363.8 1314.5 L362.4 1314.8 L360.9 1315.1 L359.4 1315.4 L358.0 1315.7 L356.7 1316.0 L355.5 1316.3 L354.6 1316.7 L354.0 1317.1 L353.7 1317.6 L353.8 1318.2 L354.2 1318.8 L354.9 1319.5 L355.8 1320.2 L356.8 1321.0 L358.0 1321.7 L359.2 1322.5 L360.4 1323.2 L361.6 1323.8 L362.7 1324.3 L363.8 1324.7 L365.1 1325.1 L366.5 1325.3 L368.0 1325.5 L369.5 1325.7 L370.9 1325.9 L372.2 1326.1 L373.3 1326.3 L374.2 1326.5 L374.8 1326.8 L375.1 1327.2 L374.8 1327.7 L373.9 1328.3 L372.7 1328.9 L371.2 1329.6 L369.7 1330.3 L368.4 1330.9 L367.5 1331.6 L367.2 1332.2 L367.4 1332.7 L368.0 1333.3 L368.9 1333.8 L369.9 1334.3 L371.2 1334.8 L372.5 1335.3 L373.8 1335.7 L375.1 1336.2 L376.2 1336.7 L377.2 1337.1 L378.2 1337.5 L379.3 1337.9 L380.3 1338.2 L381.4 1338.6 L382.5 1339.0 L383.5 1339.4 L384.6 1339.8 L385.6 1340.2 L386.6 1340.7 L387.5 1341.2 L388.5 1341.8 L389.5 1342.5 L390.5 1343.2 L391.5 1343.9 L392.4 1344.6 L393.3 1345.4 L394.1 1346.2 L394.7 1347.1 L395.3 1348.0 L395.7 1349.0 L395.8 1350.2 L395.8 1351.4 L395.8 1352.6 L395.7 1353.9 L395.6 1355.1 L395.7 1356.2 L396.0 1357.3 L396.5 1358.1 L397.2 1358.7 L398.0 1359.2 L398.9 1359.6 L400.0 1359.9 L401.1 1360.2 L402.3 1360.4 L403.6 1360.6 L404.9 1360.7 L406.2 1360.9 L407.5 1361.0 L408.8 1361.1 L410.0 1361.3 L411.1 1361.5 L412.2 1361.6 L413.3 1361.7 L414.4 1361.8 L415.6 1361.9 L416.7 1361.9 L417.9 1362.0 L419.0 1362.1 L420.2 1362.1 L421.4 1362.2 L422.6 1362.3 L423.8 1362.4 L425.0 1362.5 L426.2 1362.6 L427.3 1362.7 L428.4 1362.9 L429.5 1363.0 L430.7 1363.2 L431.8 1363.4 L433.0 1363.5 L434.2 1363.7 L435.3 1363.9 L436.5 1364.1 L437.7 1364.3 L438.9 1364.5 L440.1 1364.7 L441.3 1364.9 L442.5 1365.0 L443.7 1365.2 L444.8 1365.4 L446.0 1365.5 L447.2 1365.7 L448.4 1365.8 L449.5 1366.0 L450.7 1366.1 L451.8 1366.3 L453.0 1366.4 L454.1 1366.5 L455.3 1366.6 L456.5 1366.8 L457.6 1366.9 L458.8 1367.0 L459.9 1367.1 L461.1 1367.2 L462.3 1367.3 L463.4 1367.4 L464.6 1367.5 L465.8 1367.6 L467.0 1367.7 L468.2 1367.8 L469.3 1367.9 L470.5 1368.0 L471.7 1368.0 L472.8 1368.1 L474.0 1368.2 L475.2 1368.2 L476.4 1368.3 L477.5 1368.3 L478.7 1368.4 L479.9 1368.4 L481.1 1368.5 L482.3 1368.5 L483.5 1368.6 L484.7 1368.6 L485.9 1368.7 L487.1 1368.7 L488.2 1368.8 L489.4 1368.8 L490.6 1368.8 L491.8 1368.9 L493.0 1368.9 L494.2 1369.0 L495.4 1369.0 L496.6 1369.1 L497.8 1369.1 L499.0 1369.1 L500.2 1369.2 L501.4 1369.2 L502.6 1369.2 L503.7 1369.3 L504.9 1369.3 L506.1 1369.3 L507.3 1369.4 L508.5 1369.4 L509.7 1369.5 L510.9 1369.5 L512.0 1369.6 L513.2 1369.7 L514.4 1369.8 L515.5 1369.9 L516.7 1370.0 L517.9 1370.2 L519.1 1370.3 L520.2 1370.5 L521.4 1370.6 L522.6 1370.8 L523.7 1371.0 L524.9 1371.2 L526.0 1371.4 L527.2 1371.6 L528.3 1371.8 L529.5 1372.0 L530.6 1372.2 L531.8 1372.4 L532.9 1372.5 L534.1 1372.7 L535.2 1372.9 L536.4 1373.1 L537.6 1373.3 L538.7 1373.4 L539.9 1373.6 L541.0 1373.8 L542.2 1374.0 L543.3 1374.1 L544.5 1374.3 L545.6 1374.5 L546.7 1374.6 L547.9 1374.8 L549.1 1375.0 L550.2 1375.1 L551.4 1375.3 L552.6 1375.5 L553.8 1375.7 L555.0 1375.8 L556.2 1376.0 L557.4 1376.2 L558.5 1376.4 L559.6 1376.5 L560.7 1376.7 L561.9 1376.8 L563.0 1377.0 L564.2 1377.1 L565.3 1377.3 L566.5 1377.5 L567.7 1377.6 L568.9 1377.8 L570.1 1377.9 L571.3 1378.1 L572.5 1378.3 L573.6 1378.4 L574.8 1378.6 L576.0 1378.8 L577.1 1379.0 L578.3 1379.2 L579.4 1379.4 L580.5 1379.6 L581.6 1379.8 L582.7 1380.0 L583.7 1380.2 L585.0 1380.5 L586.2 1380.8 L587.5 1381.1 L588.7 1381.4 L590.0 1381.7 L591.2 1382.0 L592.4 1382.3 L593.6 1382.6 L594.7 1383.0 L595.9 1383.3 L597.0 1383.7 L598.1 1384.0 L599.1 1384.4 L600.1 1384.7 L601.1 1385.1 L602.0 1385.4 L603.1 1385.9 L604.2 1386.4 L605.1 1387.0 L606.0 1387.5 L606.9 1388.0 L607.8 1388.5 L608.8 1389.0 L609.9 1389.4 L610.8 1389.7 L611.8 1389.9 L612.8 1390.2 L613.9 1390.3 L614.9 1390.5 L616.0 1390.7 L617.2 1390.8 L618.3 1391.0 L619.5 1391.1 L620.7 1391.3 L621.9 1391.4 L623.2 1391.6 L624.4 1391.8 L625.7 1392.0 L626.7 1392.2 L627.8 1392.4 L628.9 1392.6 L630.0 1392.8 L631.1 1393.0 L632.3 1393.2 L633.5 1393.4 L634.7 1393.6 L635.9 1393.8 L637.2 1394.1 L638.4 1394.3 L639.6 1394.5 L640.8 1394.7 L642.1 1395.0 L643.3 1395.2 L644.4 1395.4 L645.6 1395.6 L646.7 1395.8 L647.9 1396.0 L648.9 1396.2 L650.0 1396.4 L651.0 1396.5 L651.9 1396.7 L653.2 1396.9 L654.5 1397.1 L655.7 1397.2 L656.9 1397.3 L658.1 1397.4 L659.2 1397.5 L660.3 1397.7 L661.3 1397.8 L662.3 1398.0 L663.2 1398.2 L664.0 1398.5 L665.1 1399.0 L666.0 1399.6 L666.8 1400.2 L667.6 1400.9 L668.5 1401.5" fill="none" stroke="#000" stroke-width="6" stroke-dasharray="11.2 12.4" stroke-linejoin="round" stroke-linecap="round"/>
</svg>
</body></html>
